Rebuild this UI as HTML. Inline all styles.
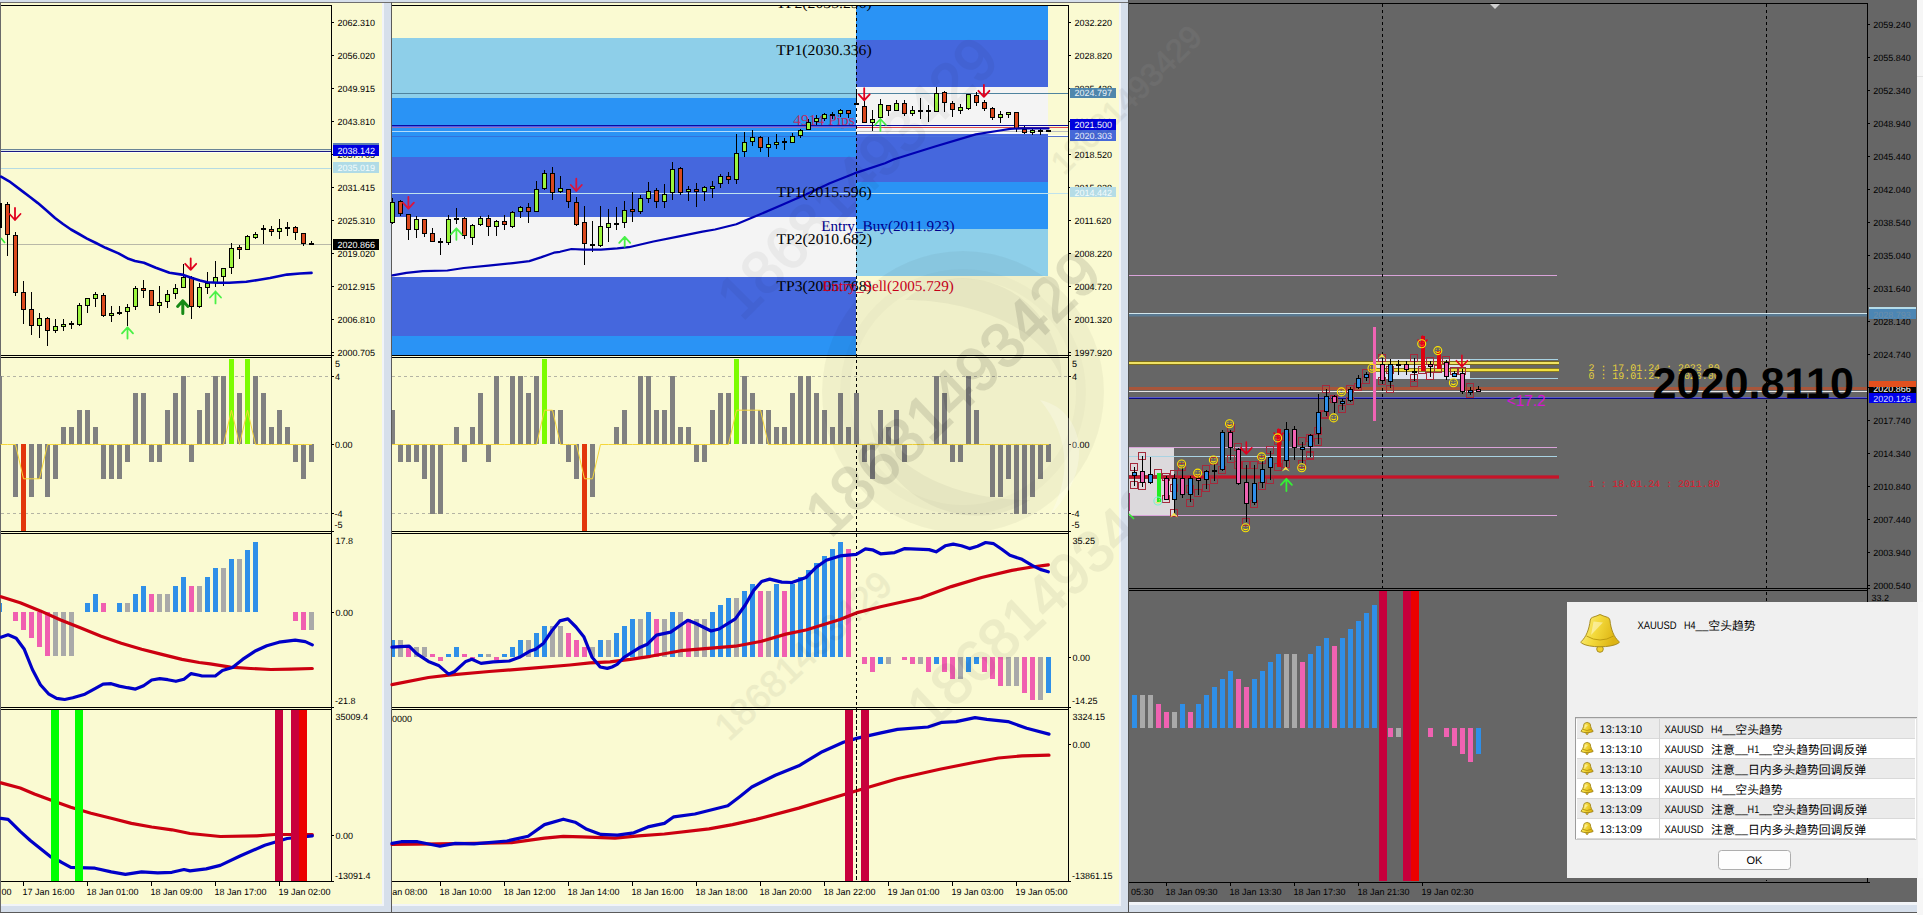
<!DOCTYPE html>
<html lang="zh"><head><meta charset="utf-8"><title>XAUUSD charts</title>
<style>html,body{margin:0;padding:0;background:#fff;overflow:hidden}svg{display:block}text{white-space:pre}</style>
</head><body>
<svg width="1923" height="915" viewBox="0 0 1923 915" shape-rendering="crispEdges" text-rendering="geometricPrecision">
<rect x="0" y="0" width="392" height="915" fill="#FFFFFF"/>
<rect x="0" y="0" width="392" height="2" fill="#D6DFEB"/>
<rect x="0" y="2" width="392" height="1" fill="#6E6E6E"/>
<rect x="1" y="3" width="381" height="901" fill="#FAFAD2"/>
<rect x="382" y="3" width="2" height="903" fill="#F1F4F8"/>
<rect x="0" y="904" width="384" height="2" fill="#F1F4F8"/>
<rect x="1" y="906" width="390" height="6" fill="#D6DFEB"/>
<rect x="384" y="3" width="7" height="909" fill="#D6DFEB"/>
<rect x="0" y="2" width="1" height="911" fill="#6A6A6A"/>
<rect x="391" y="2" width="1" height="911" fill="#5A5A5A"/>
<rect x="0" y="912" width="392" height="1" fill="#5A5A5A"/>
<rect x="0" y="913" width="392" height="2" fill="#FFFFFF"/>
<rect x="1" y="244" width="330" height="1" fill="#B8B8A8"/>
<rect x="1" y="168" width="330" height="1" fill="#B5DBE3"/>
<rect x="1" y="149" width="330" height="1" fill="#6A8496"/>
<rect x="1" y="150" width="330" height="1" fill="#DCE8E0"/>
<rect x="1" y="151" width="330" height="1" fill="#1A1A84"/>
<rect x="1" y="152" width="330" height="1" fill="#FFFFF6"/>
<rect x="0" y="203" width="2" height="25" fill="#000"/>
<rect x="7" y="202" width="1" height="54" fill="#000"/>
<rect x="5" y="204" width="5" height="31" fill="#000"/>
<rect x="6" y="205" width="3" height="29" fill="#DA4A1E"/>
<rect x="15" y="232" width="1" height="64" fill="#000"/>
<rect x="13" y="235" width="5" height="58" fill="#000"/>
<rect x="14" y="236" width="3" height="56" fill="#DA4A1E"/>
<rect x="23" y="281" width="1" height="43" fill="#000"/>
<rect x="21" y="292" width="5" height="18" fill="#000"/>
<rect x="22" y="293" width="3" height="16" fill="#DA4A1E"/>
<rect x="31" y="292" width="1" height="43" fill="#000"/>
<rect x="29" y="309" width="5" height="17" fill="#000"/>
<rect x="30" y="310" width="3" height="15" fill="#DA4A1E"/>
<rect x="39" y="313" width="1" height="25" fill="#000"/>
<rect x="37" y="318" width="5" height="8" fill="#000"/>
<rect x="38" y="319" width="3" height="6" fill="#9CF53C"/>
<rect x="47" y="317" width="1" height="29" fill="#000"/>
<rect x="45" y="318" width="5" height="13" fill="#000"/>
<rect x="46" y="319" width="3" height="11" fill="#DA4A1E"/>
<rect x="55" y="319" width="1" height="14" fill="#000"/>
<rect x="53" y="326" width="5" height="5" fill="#000"/>
<rect x="54" y="327" width="3" height="3" fill="#9CF53C"/>
<rect x="63" y="319" width="1" height="12" fill="#000"/>
<rect x="61" y="324" width="5" height="3" fill="#000"/>
<rect x="62" y="325" width="3" height="1" fill="#9CF53C"/>
<rect x="71" y="321" width="1" height="8" fill="#000"/>
<rect x="69" y="323" width="5" height="2" fill="#000"/>
<rect x="79" y="303" width="1" height="23" fill="#000"/>
<rect x="77" y="305" width="5" height="20" fill="#000"/>
<rect x="78" y="306" width="3" height="18" fill="#9CF53C"/>
<rect x="87" y="298" width="1" height="15" fill="#000"/>
<rect x="85" y="298" width="5" height="8" fill="#000"/>
<rect x="86" y="299" width="3" height="6" fill="#9CF53C"/>
<rect x="95" y="292" width="1" height="15" fill="#000"/>
<rect x="93" y="294" width="5" height="5" fill="#000"/>
<rect x="94" y="295" width="3" height="3" fill="#9CF53C"/>
<rect x="103" y="293" width="1" height="24" fill="#000"/>
<rect x="101" y="295" width="5" height="21" fill="#000"/>
<rect x="102" y="296" width="3" height="19" fill="#DA4A1E"/>
<rect x="111" y="306" width="1" height="16" fill="#000"/>
<rect x="109" y="313" width="5" height="3" fill="#000"/>
<rect x="110" y="314" width="3" height="1" fill="#9CF53C"/>
<rect x="119" y="306" width="1" height="9" fill="#000"/>
<rect x="117" y="312" width="5" height="2" fill="#000"/>
<rect x="127" y="304" width="1" height="22" fill="#000"/>
<rect x="125" y="307" width="5" height="5" fill="#000"/>
<rect x="126" y="308" width="3" height="3" fill="#9CF53C"/>
<rect x="135" y="286" width="1" height="24" fill="#000"/>
<rect x="133" y="288" width="5" height="19" fill="#000"/>
<rect x="134" y="289" width="3" height="17" fill="#9CF53C"/>
<rect x="143" y="280" width="1" height="18" fill="#000"/>
<rect x="141" y="288" width="5" height="3" fill="#000"/>
<rect x="142" y="289" width="3" height="1" fill="#DA4A1E"/>
<rect x="151" y="290" width="1" height="16" fill="#000"/>
<rect x="149" y="290" width="5" height="16" fill="#000"/>
<rect x="150" y="291" width="3" height="14" fill="#DA4A1E"/>
<rect x="159" y="286" width="1" height="27" fill="#000"/>
<rect x="157" y="302" width="5" height="4" fill="#000"/>
<rect x="158" y="303" width="3" height="2" fill="#9CF53C"/>
<rect x="167" y="290" width="1" height="18" fill="#000"/>
<rect x="165" y="294" width="5" height="8" fill="#000"/>
<rect x="166" y="295" width="3" height="6" fill="#9CF53C"/>
<rect x="175" y="284" width="1" height="15" fill="#000"/>
<rect x="173" y="288" width="5" height="6" fill="#000"/>
<rect x="174" y="289" width="3" height="4" fill="#9CF53C"/>
<rect x="183" y="264" width="1" height="24" fill="#000"/>
<rect x="181" y="277" width="5" height="11" fill="#000"/>
<rect x="182" y="278" width="3" height="9" fill="#9CF53C"/>
<rect x="191" y="276" width="1" height="43" fill="#000"/>
<rect x="189" y="277" width="5" height="30" fill="#000"/>
<rect x="190" y="278" width="3" height="28" fill="#DA4A1E"/>
<rect x="199" y="283" width="1" height="25" fill="#000"/>
<rect x="197" y="287" width="5" height="20" fill="#000"/>
<rect x="198" y="288" width="3" height="18" fill="#9CF53C"/>
<rect x="207" y="272" width="1" height="22" fill="#000"/>
<rect x="205" y="283" width="5" height="5" fill="#000"/>
<rect x="206" y="284" width="3" height="3" fill="#9CF53C"/>
<rect x="215" y="261" width="1" height="26" fill="#000"/>
<rect x="213" y="277" width="5" height="6" fill="#000"/>
<rect x="214" y="278" width="3" height="4" fill="#9CF53C"/>
<rect x="223" y="268" width="1" height="18" fill="#000"/>
<rect x="221" y="268" width="5" height="9" fill="#000"/>
<rect x="222" y="269" width="3" height="7" fill="#9CF53C"/>
<rect x="231" y="243" width="1" height="31" fill="#000"/>
<rect x="229" y="248" width="5" height="20" fill="#000"/>
<rect x="230" y="249" width="3" height="18" fill="#9CF53C"/>
<rect x="239" y="245" width="1" height="14" fill="#000"/>
<rect x="237" y="247" width="5" height="3" fill="#000"/>
<rect x="238" y="248" width="3" height="1" fill="#DA4A1E"/>
<rect x="247" y="235" width="1" height="15" fill="#000"/>
<rect x="245" y="236" width="5" height="14" fill="#000"/>
<rect x="246" y="237" width="3" height="12" fill="#9CF53C"/>
<rect x="255" y="232" width="1" height="7" fill="#000"/>
<rect x="253" y="234" width="5" height="4" fill="#000"/>
<rect x="254" y="235" width="3" height="2" fill="#9CF53C"/>
<rect x="263" y="225" width="1" height="19" fill="#000"/>
<rect x="261" y="228" width="5" height="2" fill="#000"/>
<rect x="271" y="226" width="1" height="10" fill="#000"/>
<rect x="269" y="229" width="5" height="3" fill="#000"/>
<rect x="270" y="230" width="3" height="1" fill="#DA4A1E"/>
<rect x="279" y="219" width="1" height="20" fill="#000"/>
<rect x="277" y="228" width="5" height="4" fill="#000"/>
<rect x="278" y="229" width="3" height="2" fill="#9CF53C"/>
<rect x="287" y="222" width="1" height="14" fill="#000"/>
<rect x="285" y="227" width="5" height="2" fill="#000"/>
<rect x="295" y="226" width="1" height="14" fill="#000"/>
<rect x="293" y="227" width="5" height="6" fill="#000"/>
<rect x="294" y="228" width="3" height="4" fill="#DA4A1E"/>
<rect x="303" y="233" width="1" height="13" fill="#000"/>
<rect x="301" y="233" width="5" height="11" fill="#000"/>
<rect x="302" y="234" width="3" height="9" fill="#DA4A1E"/>
<rect x="311" y="241" width="1" height="4" fill="#000"/>
<rect x="309" y="243" width="5" height="2" fill="#000"/>
<polyline points="1.1,176.7 9.2,181.3 22.9,191.6 30,197 37.9,203.1 46,210 55,218 63,224 71,229.5 79,234 87,238.6 96,243 105.5,247.8 118.5,253.4 128.5,258.8 135,261 143.9,262.7 155.8,267.8 169.5,272.7 181.9,274.6 192,278 200,280.5 207.3,282.2 218,282.8 229.3,282.7 246.3,281.7 258,280 270,278 287,274.6 300,273.5 311.5,272.9" fill="none" stroke="#0000C0" stroke-width="2.6" stroke-linejoin="round" stroke-linecap="round" shape-rendering="geometricPrecision"/>
<path d="M15 208 V220 M9.5 214 L15 220 L20.5 214" fill="none" stroke="#E0001E" stroke-width="1.8" stroke-linecap="round" stroke-linejoin="round" shape-rendering="geometricPrecision"/>
<path d="M190.7 258.5 V269.8 M185.2 263.8 L190.7 269.8 L196.2 263.8" fill="none" stroke="#E0001E" stroke-width="1.8" stroke-linecap="round" stroke-linejoin="round" shape-rendering="geometricPrecision"/>
<path d="M127.5 338.6 V327.4 M122 333.4 L127.5 327.4 L133 333.4" fill="none" stroke="#35F035" stroke-width="1.8" stroke-linecap="round" stroke-linejoin="round" opacity="0.9" shape-rendering="geometricPrecision"/>
<path d="M215.5 303.4 V291.5 M210 297.5 L215.5 291.5 L221 297.5" fill="none" stroke="#35F035" stroke-width="1.8" stroke-linecap="round" stroke-linejoin="round" opacity="0.9" shape-rendering="geometricPrecision"/>
<path d="M182.8 313.5 V300.8 M177.6 306.5 L182.8 300.8 L188 306.5" fill="none" stroke="#168A16" stroke-width="3" stroke-linecap="round" stroke-linejoin="round" opacity="1" shape-rendering="geometricPrecision"/>
<path d="M1 238 L5 243" stroke="#35F035" stroke-width="1.6" fill="none" shape-rendering="geometricPrecision"/>
<rect x="1" y="5" width="331" height="1" fill="#000"/>
<rect x="1" y="355" width="333" height="1" fill="#000"/>
<rect x="1" y="357" width="331" height="1" fill="#000"/>
<rect x="1" y="531" width="333" height="1" fill="#000"/>
<rect x="1" y="533" width="331" height="1" fill="#000"/>
<rect x="1" y="707" width="333" height="1" fill="#000"/>
<rect x="1" y="709" width="331" height="1" fill="#000"/>
<rect x="1" y="881" width="333" height="1" fill="#000"/>
<rect x="331" y="5" width="1" height="877" fill="#000"/>
<rect x="332" y="22" width="2" height="1" fill="#000"/>
<text x="337.4" y="25.8" font-family="'Liberation Sans','Noto Sans CJK SC',sans-serif" font-size="9" fill="#000">2062.310</text>
<rect x="332" y="55" width="2" height="1" fill="#000"/>
<text x="337.4" y="58.8" font-family="'Liberation Sans','Noto Sans CJK SC',sans-serif" font-size="9" fill="#000">2056.020</text>
<rect x="332" y="88" width="2" height="1" fill="#000"/>
<text x="337.4" y="91.8" font-family="'Liberation Sans','Noto Sans CJK SC',sans-serif" font-size="9" fill="#000">2049.915</text>
<rect x="332" y="121" width="2" height="1" fill="#000"/>
<text x="337.4" y="124.8" font-family="'Liberation Sans','Noto Sans CJK SC',sans-serif" font-size="9" fill="#000">2043.810</text>
<rect x="332" y="154" width="2" height="1" fill="#000"/>
<text x="337.4" y="157.8" font-family="'Liberation Sans','Noto Sans CJK SC',sans-serif" font-size="9" fill="#000">2037.705</text>
<rect x="332" y="187" width="2" height="1" fill="#000"/>
<text x="337.4" y="190.8" font-family="'Liberation Sans','Noto Sans CJK SC',sans-serif" font-size="9" fill="#000">2031.415</text>
<rect x="332" y="220" width="2" height="1" fill="#000"/>
<text x="337.4" y="223.8" font-family="'Liberation Sans','Noto Sans CJK SC',sans-serif" font-size="9" fill="#000">2025.310</text>
<rect x="332" y="253" width="2" height="1" fill="#000"/>
<text x="337.4" y="256.8" font-family="'Liberation Sans','Noto Sans CJK SC',sans-serif" font-size="9" fill="#000">2019.020</text>
<rect x="332" y="286" width="2" height="1" fill="#000"/>
<text x="337.4" y="289.8" font-family="'Liberation Sans','Noto Sans CJK SC',sans-serif" font-size="9" fill="#000">2012.915</text>
<rect x="332" y="319" width="2" height="1" fill="#000"/>
<text x="337.4" y="322.8" font-family="'Liberation Sans','Noto Sans CJK SC',sans-serif" font-size="9" fill="#000">2006.810</text>
<rect x="332" y="352" width="2" height="1" fill="#000"/>
<text x="337.4" y="355.8" font-family="'Liberation Sans','Noto Sans CJK SC',sans-serif" font-size="9" fill="#000">2000.705</text>
<rect x="333" y="143" width="46" height="2" fill="#5B7DB8"/>
<rect x="333" y="145" width="46" height="11" fill="#0000E0"/>
<text x="337.4" y="153.7" font-family="'Liberation Sans','Noto Sans CJK SC',sans-serif" font-size="9" fill="#FFF">2038.142</text>
<rect x="333" y="162" width="46" height="11" fill="#B0DBE6"/>
<text x="337.4" y="170.9" font-family="'Liberation Sans','Noto Sans CJK SC',sans-serif" font-size="9" fill="#F4FBFC">2035.019</text>
<rect x="333" y="239" width="46" height="11" fill="#000"/>
<text x="337.4" y="248" font-family="'Liberation Sans','Noto Sans CJK SC',sans-serif" font-size="9" fill="#FFF">2020.866</text>
<path d="M1 376.5 H331" stroke="#B4B4A4" stroke-width="1" stroke-dasharray="3 3" fill="none"/>
<path d="M1 513.5 H331" stroke="#B4B4A4" stroke-width="1" stroke-dasharray="3 3" fill="none"/>
<rect x="-3" y="376" width="5" height="68" fill="#808080"/>
<rect x="13" y="444" width="5" height="53" fill="#808080"/>
<rect x="21" y="444" width="5" height="87" fill="#E2360C"/>
<rect x="29" y="444" width="5" height="53" fill="#808080"/>
<rect x="37" y="444" width="5" height="35" fill="#808080"/>
<rect x="45" y="444" width="5" height="53" fill="#808080"/>
<rect x="53" y="444" width="5" height="35" fill="#808080"/>
<rect x="61" y="427" width="5" height="17" fill="#808080"/>
<rect x="69" y="427" width="5" height="17" fill="#808080"/>
<rect x="77" y="410" width="5" height="34" fill="#808080"/>
<rect x="85" y="410" width="5" height="34" fill="#808080"/>
<rect x="93" y="427" width="5" height="17" fill="#808080"/>
<rect x="101" y="444" width="5" height="35" fill="#808080"/>
<rect x="109" y="444" width="5" height="35" fill="#808080"/>
<rect x="117" y="444" width="5" height="35" fill="#808080"/>
<rect x="125" y="444" width="5" height="18" fill="#808080"/>
<rect x="133" y="393" width="5" height="51" fill="#808080"/>
<rect x="141" y="393" width="5" height="51" fill="#808080"/>
<rect x="149" y="444" width="5" height="18" fill="#808080"/>
<rect x="157" y="444" width="5" height="18" fill="#808080"/>
<rect x="165" y="410" width="5" height="34" fill="#808080"/>
<rect x="173" y="393" width="5" height="51" fill="#808080"/>
<rect x="181" y="376" width="5" height="68" fill="#808080"/>
<rect x="189" y="444" width="5" height="18" fill="#808080"/>
<rect x="197" y="410" width="5" height="34" fill="#808080"/>
<rect x="205" y="393" width="5" height="51" fill="#808080"/>
<rect x="213" y="376" width="5" height="68" fill="#808080"/>
<rect x="221" y="376" width="5" height="68" fill="#808080"/>
<rect x="229" y="359" width="5" height="85" fill="#7CFC00"/>
<rect x="237" y="393" width="5" height="51" fill="#808080"/>
<rect x="245" y="359" width="5" height="85" fill="#7CFC00"/>
<rect x="253" y="376" width="5" height="68" fill="#808080"/>
<rect x="261" y="393" width="5" height="51" fill="#808080"/>
<rect x="269" y="427" width="5" height="17" fill="#808080"/>
<rect x="277" y="410" width="5" height="34" fill="#808080"/>
<rect x="285" y="427" width="5" height="17" fill="#808080"/>
<rect x="293" y="444" width="5" height="18" fill="#808080"/>
<rect x="301" y="444" width="5" height="35" fill="#808080"/>
<rect x="309" y="444" width="5" height="18" fill="#808080"/>
<polyline points="1,444.5 7.5,444.5 15.5,444.5 23.5,478.8 31.5,478.8 39.5,478.8 47.5,444.5 55.5,444.5 63.5,444.5 71.5,444.5 79.5,444.5 87.5,444.5 95.5,444.5 103.5,444.5 111.5,444.5 119.5,444.5 127.5,444.5 135.5,444.5 143.5,444.5 151.5,444.5 159.5,444.5 167.5,444.5 175.5,444.5 183.5,444.5 191.5,444.5 199.5,444.5 207.5,444.5 215.5,444.5 223.5,444.5 231.5,410.2 239.5,444.5 247.5,410.2 255.5,444.5 263.5,444.5 271.5,444.5 279.5,444.5 287.5,444.5 295.5,444.5 303.5,444.5 311.5,444.5" fill="none" stroke="#F5D63A" stroke-width="1" stroke-linejoin="round" stroke-linecap="round" shape-rendering="geometricPrecision"/>
<text x="335" y="367.3" font-family="'Liberation Sans','Noto Sans CJK SC',sans-serif" font-size="9" fill="#000">5</text>
<text x="335" y="379.8" font-family="'Liberation Sans','Noto Sans CJK SC',sans-serif" font-size="9" fill="#000">4</text>
<text x="335" y="447.8" font-family="'Liberation Sans','Noto Sans CJK SC',sans-serif" font-size="9" fill="#000">0.00</text>
<text x="334.6" y="516.8" font-family="'Liberation Sans','Noto Sans CJK SC',sans-serif" font-size="9" fill="#000">-4</text>
<text x="334.6" y="527.8" font-family="'Liberation Sans','Noto Sans CJK SC',sans-serif" font-size="9" fill="#000">-5</text>
<rect x="332" y="376" width="2" height="1" fill="#000"/>
<rect x="332" y="444" width="2" height="1" fill="#000"/>
<rect x="332" y="513" width="2" height="1" fill="#000"/>
<rect x="1" y="603" width="1" height="9" fill="#2F8FE8"/>
<rect x="13" y="612" width="5" height="9" fill="#F05FB0"/>
<rect x="21" y="612" width="5" height="18" fill="#F05FB0"/>
<rect x="29" y="612" width="5" height="26" fill="#F05FB0"/>
<rect x="37" y="612" width="5" height="35" fill="#F05FB0"/>
<rect x="45" y="612" width="5" height="44" fill="#F05FB0"/>
<rect x="53" y="612" width="5" height="44" fill="#A9A9A9"/>
<rect x="61" y="612" width="5" height="44" fill="#A9A9A9"/>
<rect x="69" y="612" width="5" height="44" fill="#A9A9A9"/>
<rect x="85" y="603" width="5" height="9" fill="#2F8FE8"/>
<rect x="93" y="594" width="5" height="18" fill="#2F8FE8"/>
<rect x="101" y="603" width="5" height="9" fill="#F05FB0"/>
<rect x="117" y="603" width="5" height="9" fill="#2F8FE8"/>
<rect x="125" y="603" width="5" height="9" fill="#A9A9A9"/>
<rect x="133" y="594" width="5" height="18" fill="#2F8FE8"/>
<rect x="141" y="586" width="5" height="26" fill="#2F8FE8"/>
<rect x="149" y="594" width="5" height="18" fill="#F05FB0"/>
<rect x="157" y="594" width="5" height="18" fill="#A9A9A9"/>
<rect x="165" y="594" width="5" height="18" fill="#A9A9A9"/>
<rect x="173" y="586" width="5" height="26" fill="#2F8FE8"/>
<rect x="181" y="577" width="5" height="35" fill="#2F8FE8"/>
<rect x="189" y="586" width="5" height="26" fill="#F05FB0"/>
<rect x="197" y="586" width="5" height="26" fill="#A9A9A9"/>
<rect x="205" y="577" width="5" height="35" fill="#2F8FE8"/>
<rect x="213" y="568" width="5" height="44" fill="#2F8FE8"/>
<rect x="221" y="568" width="5" height="44" fill="#A9A9A9"/>
<rect x="229" y="559" width="5" height="53" fill="#2F8FE8"/>
<rect x="237" y="559" width="5" height="53" fill="#A9A9A9"/>
<rect x="245" y="550" width="5" height="62" fill="#2F8FE8"/>
<rect x="253" y="542" width="5" height="70" fill="#2F8FE8"/>
<rect x="293" y="612" width="5" height="9" fill="#F05FB0"/>
<rect x="301" y="612" width="5" height="18" fill="#F05FB0"/>
<rect x="309" y="612" width="5" height="18" fill="#A9A9A9"/>
<polyline points="1,596.7 20.2,602.8 40.4,610.9 60.7,620 80.9,628.1 101.1,636.2 121.3,643.2 141.6,649.3 161.8,654.4 182,659.4 199.2,662.5 210.2,663.9 230.4,667.1 250.7,668.5 270.9,669.5 291.1,669.1 312.3,668.5" fill="none" stroke="#CC0010" stroke-width="3.2" stroke-linejoin="round" stroke-linecap="round" shape-rendering="geometricPrecision"/>
<polyline points="1,637.2 8.1,634.8 16.2,638.2 24.3,649.3 32.4,669.5 40.4,684.7 48.5,693.8 56.6,698.3 64.7,699.5 72.8,697.8 84.9,694.2 95,688.7 103.1,684.1 111.2,683.7 119.3,686.1 127.4,687.7 135.5,689.1 143.6,685.7 151.7,680 159.8,678.6 167.8,679.7 175.9,681.3 184,679.2 191.1,673.6 199.2,675.2 202.1,676 215.3,676 222.4,670.5 232.5,667.5 242.6,659.4 254.7,651.3 266.8,645.7 279,642.2 295.2,640.2 305.3,641.6 312.3,644.9" fill="none" stroke="#0000C8" stroke-width="3.2" stroke-linejoin="round" stroke-linecap="round" shape-rendering="geometricPrecision"/>
<text x="335.5" y="543.8" font-family="'Liberation Sans','Noto Sans CJK SC',sans-serif" font-size="9" fill="#000">17.8</text>
<text x="335.5" y="616" font-family="'Liberation Sans','Noto Sans CJK SC',sans-serif" font-size="9" fill="#000">0.00</text>
<text x="335" y="704" font-family="'Liberation Sans','Noto Sans CJK SC',sans-serif" font-size="9" fill="#000">-21.8</text>
<rect x="332" y="612" width="2" height="1" fill="#000"/>
<polyline points="1,782.9 20.2,788 34.4,794 50.6,800.1 70.8,807.2 91,813.2 111.2,818.3 131.4,823.4 151.7,827 171.9,829.8 190,833.5 220.3,836.5 256.7,835.9 274.9,834.5 312.3,834.5" fill="none" stroke="#CC0010" stroke-width="3.2" stroke-linejoin="round" stroke-linecap="round" shape-rendering="geometricPrecision"/>
<polyline points="1,818.3 8.1,819.3 20.2,831.4 30.3,840.5 50.6,856.7 60.7,861.8 70.8,867.4 95,868.2 111.2,871.9 125.4,874.3 141.6,871.9 157.7,872.9 171.9,872.3 184,869.5 190,870.9 206.2,868.9 220.3,865.4 240.6,855.7 264.8,845.2 287.1,838.5 312.3,835.9" fill="none" stroke="#0000C8" stroke-width="3.2" stroke-linejoin="round" stroke-linecap="round" shape-rendering="geometricPrecision"/>
<rect x="51" y="710" width="8" height="171" fill="#00FF00"/>
<rect x="75" y="710" width="8" height="171" fill="#00FF00"/>
<rect x="275" y="710" width="8" height="171" fill="#C8003C"/>
<rect x="291" y="710" width="8" height="171" fill="#C8003C"/>
<rect x="299" y="710" width="8" height="171" fill="#EC0000"/>
<text x="335.5" y="720" font-family="'Liberation Sans','Noto Sans CJK SC',sans-serif" font-size="9" fill="#000">35009.4</text>
<text x="335.5" y="839" font-family="'Liberation Sans','Noto Sans CJK SC',sans-serif" font-size="9" fill="#000">0.00</text>
<text x="335" y="879" font-family="'Liberation Sans','Noto Sans CJK SC',sans-serif" font-size="9" fill="#000">-13091.4</text>
<rect x="332" y="835" width="2" height="1" fill="#000"/>
<rect x="23" y="882" width="1" height="4" fill="#000"/>
<text x="22.5" y="894.8" font-family="'Liberation Sans','Noto Sans CJK SC',sans-serif" font-size="9" fill="#000">17 Jan 16:00</text>
<rect x="87" y="882" width="1" height="4" fill="#000"/>
<text x="86.5" y="894.8" font-family="'Liberation Sans','Noto Sans CJK SC',sans-serif" font-size="9" fill="#000">18 Jan 01:00</text>
<rect x="151" y="882" width="1" height="4" fill="#000"/>
<text x="150.5" y="894.8" font-family="'Liberation Sans','Noto Sans CJK SC',sans-serif" font-size="9" fill="#000">18 Jan 09:00</text>
<rect x="215" y="882" width="1" height="4" fill="#000"/>
<text x="214.5" y="894.8" font-family="'Liberation Sans','Noto Sans CJK SC',sans-serif" font-size="9" fill="#000">18 Jan 17:00</text>
<rect x="279" y="882" width="1" height="4" fill="#000"/>
<text x="278.5" y="894.8" font-family="'Liberation Sans','Noto Sans CJK SC',sans-serif" font-size="9" fill="#000">19 Jan 02:00</text>
<text x="1.5" y="894.8" font-family="'Liberation Sans','Noto Sans CJK SC',sans-serif" font-size="9" fill="#000">00</text>
<rect x="392" y="0" width="737" height="915" fill="#FFFFFF"/>
<rect x="392" y="0" width="737" height="2" fill="#D6DFEB"/>
<rect x="392" y="2" width="737" height="1" fill="#6E6E6E"/>
<rect x="392" y="3" width="727" height="901" fill="#FAFAD2"/>
<rect x="1119" y="3" width="2" height="903" fill="#F1F4F8"/>
<rect x="392" y="904" width="729" height="2" fill="#F1F4F8"/>
<rect x="392" y="906" width="736" height="6" fill="#D6DFEB"/>
<rect x="1121" y="3" width="7" height="909" fill="#D6DFEB"/>
<rect x="392" y="912" width="737" height="1" fill="#5A5A5A"/>
<rect x="392" y="913" width="737" height="2" fill="#FFFFFF"/>
<rect x="392" y="38" width="464" height="60" fill="#8ECFE9"/>
<rect x="392" y="98" width="464" height="59" fill="#2A93F5"/>
<rect x="392" y="157" width="464" height="60" fill="#4567DD"/>
<rect x="392" y="217" width="464" height="60" fill="#F4F4F4"/>
<rect x="392" y="277" width="464" height="59" fill="#4567DD"/>
<rect x="392" y="336" width="464" height="19" fill="#2A93F5"/>
<rect x="856" y="6" width="192" height="34" fill="#2A93F5"/>
<rect x="856" y="40" width="192" height="47" fill="#4567DD"/>
<rect x="856" y="87" width="192" height="47" fill="#F4F4F4"/>
<rect x="856" y="134" width="192" height="48" fill="#4567DD"/>
<rect x="856" y="182" width="192" height="47" fill="#2A93F5"/>
<rect x="856" y="229" width="192" height="47" fill="#8ECFE9"/>
<rect x="392" y="93" width="676" height="1" fill="#4F839F"/>
<rect x="392" y="193" width="676" height="1" fill="#BFE3EE"/>
<rect x="392" y="136" width="656" height="1" fill="#3272DC"/>
<rect x="856" y="136" width="192" height="1" fill="#4A70DE"/>
<rect x="1048" y="135" width="20" height="1" fill="#FFFFF4"/>
<rect x="1048" y="136" width="20" height="1" fill="#5573C8"/>
<rect x="392" y="131" width="464" height="1" fill="#B2DCFA"/>
<rect x="856" y="131" width="212" height="1" fill="#B9BCC0"/>
<rect x="856" y="132" width="192" height="1" fill="#FBFBFB"/>
<text x="793.3" y="124.6" font-family="'Liberation Serif','Noto Serif CJK SC',serif" font-size="15" fill="#B82D68" textLength="61.6" lengthAdjust="spacingAndGlyphs">4914 Pips</text>
<rect x="392" y="125" width="676" height="1" fill="#0A0AA0"/>
<rect x="392" y="126" width="464" height="1" fill="#4A5CEC"/>
<rect x="392" y="127" width="464" height="1" fill="#9472B4"/>
<rect x="856" y="127" width="212" height="1" fill="#E0484C"/>
<path d="M856.5 6 V881" stroke="#000" stroke-width="1" stroke-dasharray="3 3" fill="none"/>
<rect x="392" y="198" width="1" height="26" fill="#000"/>
<rect x="390" y="202" width="5" height="21" fill="#000"/>
<rect x="391" y="203" width="3" height="19" fill="#9CF53C"/>
<rect x="400" y="200" width="1" height="16" fill="#000"/>
<rect x="398" y="201" width="5" height="13" fill="#000"/>
<rect x="399" y="202" width="3" height="11" fill="#DA4A1E"/>
<rect x="408" y="214" width="1" height="26" fill="#000"/>
<rect x="406" y="214" width="5" height="16" fill="#000"/>
<rect x="407" y="215" width="3" height="14" fill="#DA4A1E"/>
<rect x="416" y="216" width="1" height="22" fill="#000"/>
<rect x="414" y="219" width="5" height="11" fill="#000"/>
<rect x="415" y="220" width="3" height="9" fill="#9CF53C"/>
<rect x="424" y="219" width="1" height="18" fill="#000"/>
<rect x="422" y="219" width="5" height="15" fill="#000"/>
<rect x="423" y="220" width="3" height="13" fill="#DA4A1E"/>
<rect x="432" y="228" width="1" height="14" fill="#000"/>
<rect x="430" y="233" width="5" height="9" fill="#000"/>
<rect x="431" y="234" width="3" height="7" fill="#DA4A1E"/>
<rect x="440" y="238" width="1" height="17" fill="#000"/>
<rect x="438" y="241" width="5" height="2" fill="#000"/>
<rect x="448" y="215" width="1" height="30" fill="#000"/>
<rect x="446" y="219" width="5" height="24" fill="#000"/>
<rect x="447" y="220" width="3" height="22" fill="#9CF53C"/>
<rect x="456" y="208" width="1" height="16" fill="#000"/>
<rect x="454" y="218" width="5" height="2" fill="#000"/>
<rect x="464" y="217" width="1" height="22" fill="#000"/>
<rect x="462" y="218" width="5" height="18" fill="#000"/>
<rect x="463" y="219" width="3" height="16" fill="#DA4A1E"/>
<rect x="472" y="224" width="1" height="21" fill="#000"/>
<rect x="470" y="225" width="5" height="13" fill="#000"/>
<rect x="471" y="226" width="3" height="11" fill="#9CF53C"/>
<rect x="480" y="216" width="1" height="10" fill="#000"/>
<rect x="478" y="218" width="5" height="7" fill="#000"/>
<rect x="479" y="219" width="3" height="5" fill="#9CF53C"/>
<rect x="488" y="215" width="1" height="21" fill="#000"/>
<rect x="486" y="218" width="5" height="9" fill="#000"/>
<rect x="487" y="219" width="3" height="7" fill="#DA4A1E"/>
<rect x="496" y="220" width="1" height="16" fill="#000"/>
<rect x="494" y="221" width="5" height="6" fill="#000"/>
<rect x="495" y="222" width="3" height="4" fill="#9CF53C"/>
<rect x="504" y="215" width="1" height="15" fill="#000"/>
<rect x="502" y="221" width="5" height="4" fill="#000"/>
<rect x="503" y="222" width="3" height="2" fill="#DA4A1E"/>
<rect x="512" y="211" width="1" height="17" fill="#000"/>
<rect x="510" y="212" width="5" height="15" fill="#000"/>
<rect x="511" y="213" width="3" height="13" fill="#9CF53C"/>
<rect x="520" y="206" width="1" height="12" fill="#000"/>
<rect x="518" y="207" width="5" height="5" fill="#000"/>
<rect x="519" y="208" width="3" height="3" fill="#9CF53C"/>
<rect x="528" y="203" width="1" height="20" fill="#000"/>
<rect x="526" y="207" width="5" height="5" fill="#000"/>
<rect x="527" y="208" width="3" height="3" fill="#DA4A1E"/>
<rect x="536" y="181" width="1" height="31" fill="#000"/>
<rect x="534" y="189" width="5" height="23" fill="#000"/>
<rect x="535" y="190" width="3" height="21" fill="#9CF53C"/>
<rect x="544" y="170" width="1" height="20" fill="#000"/>
<rect x="542" y="173" width="5" height="16" fill="#000"/>
<rect x="543" y="174" width="3" height="14" fill="#9CF53C"/>
<rect x="552" y="167" width="1" height="33" fill="#000"/>
<rect x="550" y="173" width="5" height="20" fill="#000"/>
<rect x="551" y="174" width="3" height="18" fill="#DA4A1E"/>
<rect x="560" y="176" width="1" height="17" fill="#000"/>
<rect x="558" y="188" width="5" height="4" fill="#000"/>
<rect x="559" y="189" width="3" height="2" fill="#9CF53C"/>
<rect x="568" y="189" width="1" height="19" fill="#000"/>
<rect x="566" y="189" width="5" height="13" fill="#000"/>
<rect x="567" y="190" width="3" height="11" fill="#DA4A1E"/>
<rect x="576" y="197" width="1" height="29" fill="#000"/>
<rect x="574" y="202" width="5" height="23" fill="#000"/>
<rect x="575" y="203" width="3" height="21" fill="#DA4A1E"/>
<rect x="584" y="206" width="1" height="59" fill="#000"/>
<rect x="582" y="222" width="5" height="22" fill="#000"/>
<rect x="583" y="223" width="3" height="20" fill="#DA4A1E"/>
<rect x="592" y="221" width="1" height="31" fill="#000"/>
<rect x="590" y="244" width="5" height="2" fill="#000"/>
<rect x="600" y="206" width="1" height="41" fill="#000"/>
<rect x="598" y="226" width="5" height="20" fill="#000"/>
<rect x="599" y="227" width="3" height="18" fill="#9CF53C"/>
<rect x="608" y="209" width="1" height="33" fill="#000"/>
<rect x="606" y="223" width="5" height="5" fill="#000"/>
<rect x="607" y="224" width="3" height="3" fill="#9CF53C"/>
<rect x="616" y="207" width="1" height="23" fill="#000"/>
<rect x="614" y="223" width="5" height="2" fill="#000"/>
<rect x="624" y="201" width="1" height="27" fill="#000"/>
<rect x="622" y="210" width="5" height="13" fill="#000"/>
<rect x="623" y="211" width="3" height="11" fill="#9CF53C"/>
<rect x="632" y="192" width="1" height="30" fill="#000"/>
<rect x="630" y="209" width="5" height="3" fill="#000"/>
<rect x="631" y="210" width="3" height="1" fill="#DA4A1E"/>
<rect x="640" y="195" width="1" height="19" fill="#000"/>
<rect x="638" y="198" width="5" height="14" fill="#000"/>
<rect x="639" y="199" width="3" height="12" fill="#9CF53C"/>
<rect x="648" y="182" width="1" height="21" fill="#000"/>
<rect x="646" y="191" width="5" height="8" fill="#000"/>
<rect x="647" y="192" width="3" height="6" fill="#9CF53C"/>
<rect x="656" y="188" width="1" height="20" fill="#000"/>
<rect x="654" y="190" width="5" height="12" fill="#000"/>
<rect x="655" y="191" width="3" height="10" fill="#DA4A1E"/>
<rect x="664" y="184" width="1" height="24" fill="#000"/>
<rect x="662" y="194" width="5" height="8" fill="#000"/>
<rect x="663" y="195" width="3" height="6" fill="#9CF53C"/>
<rect x="672" y="162" width="1" height="38" fill="#000"/>
<rect x="670" y="169" width="5" height="24" fill="#000"/>
<rect x="671" y="170" width="3" height="22" fill="#9CF53C"/>
<rect x="680" y="167" width="1" height="28" fill="#000"/>
<rect x="678" y="168" width="5" height="25" fill="#000"/>
<rect x="679" y="169" width="3" height="23" fill="#DA4A1E"/>
<rect x="688" y="186" width="1" height="15" fill="#000"/>
<rect x="686" y="189" width="5" height="3" fill="#000"/>
<rect x="687" y="190" width="3" height="1" fill="#9CF53C"/>
<rect x="696" y="183" width="1" height="24" fill="#000"/>
<rect x="694" y="189" width="5" height="3" fill="#000"/>
<rect x="695" y="190" width="3" height="1" fill="#DA4A1E"/>
<rect x="704" y="186" width="1" height="15" fill="#000"/>
<rect x="702" y="187" width="5" height="5" fill="#000"/>
<rect x="703" y="188" width="3" height="3" fill="#9CF53C"/>
<rect x="712" y="181" width="1" height="17" fill="#000"/>
<rect x="710" y="186" width="5" height="3" fill="#000"/>
<rect x="711" y="187" width="3" height="1" fill="#9CF53C"/>
<rect x="720" y="174" width="1" height="14" fill="#000"/>
<rect x="718" y="176" width="5" height="8" fill="#000"/>
<rect x="719" y="177" width="3" height="6" fill="#9CF53C"/>
<rect x="728" y="172" width="1" height="12" fill="#000"/>
<rect x="726" y="176" width="5" height="4" fill="#000"/>
<rect x="727" y="177" width="3" height="2" fill="#DA4A1E"/>
<rect x="736" y="134" width="1" height="50" fill="#000"/>
<rect x="734" y="153" width="5" height="27" fill="#000"/>
<rect x="735" y="154" width="3" height="25" fill="#9CF53C"/>
<rect x="744" y="132" width="1" height="25" fill="#000"/>
<rect x="742" y="142" width="5" height="10" fill="#000"/>
<rect x="743" y="143" width="3" height="8" fill="#9CF53C"/>
<rect x="752" y="130" width="1" height="16" fill="#000"/>
<rect x="750" y="137" width="5" height="5" fill="#000"/>
<rect x="751" y="138" width="3" height="3" fill="#9CF53C"/>
<rect x="760" y="136" width="1" height="16" fill="#000"/>
<rect x="758" y="137" width="5" height="11" fill="#000"/>
<rect x="759" y="138" width="3" height="9" fill="#DA4A1E"/>
<rect x="768" y="137" width="1" height="20" fill="#000"/>
<rect x="766" y="144" width="5" height="4" fill="#000"/>
<rect x="767" y="145" width="3" height="2" fill="#9CF53C"/>
<rect x="776" y="134" width="1" height="15" fill="#000"/>
<rect x="774" y="142" width="5" height="3" fill="#000"/>
<rect x="775" y="143" width="3" height="1" fill="#9CF53C"/>
<rect x="784" y="138" width="1" height="12" fill="#000"/>
<rect x="782" y="141" width="5" height="2" fill="#000"/>
<rect x="792" y="133" width="1" height="10" fill="#000"/>
<rect x="790" y="136" width="5" height="7" fill="#000"/>
<rect x="791" y="137" width="3" height="5" fill="#9CF53C"/>
<rect x="800" y="129" width="1" height="9" fill="#000"/>
<rect x="798" y="130" width="5" height="6" fill="#000"/>
<rect x="799" y="131" width="3" height="4" fill="#9CF53C"/>
<rect x="808" y="119" width="1" height="11" fill="#000"/>
<rect x="806" y="122" width="5" height="8" fill="#000"/>
<rect x="807" y="123" width="3" height="6" fill="#9CF53C"/>
<rect x="816" y="115" width="1" height="10" fill="#000"/>
<rect x="814" y="118" width="5" height="4" fill="#000"/>
<rect x="815" y="119" width="3" height="2" fill="#9CF53C"/>
<rect x="824" y="113" width="1" height="8" fill="#000"/>
<rect x="822" y="114" width="5" height="5" fill="#000"/>
<rect x="823" y="115" width="3" height="3" fill="#9CF53C"/>
<rect x="832" y="112" width="1" height="7" fill="#000"/>
<rect x="830" y="114" width="5" height="2" fill="#000"/>
<rect x="840" y="109" width="1" height="8" fill="#000"/>
<rect x="838" y="110" width="5" height="4" fill="#000"/>
<rect x="839" y="111" width="3" height="2" fill="#9CF53C"/>
<rect x="848" y="110" width="1" height="8" fill="#000"/>
<rect x="846" y="110" width="5" height="4" fill="#000"/>
<rect x="847" y="111" width="3" height="2" fill="#DA4A1E"/>
<rect x="856" y="89" width="1" height="16" fill="#000"/>
<rect x="854" y="103" width="5" height="2" fill="#000"/>
<rect x="864" y="100" width="1" height="23" fill="#000"/>
<rect x="862" y="106" width="5" height="17" fill="#000"/>
<rect x="863" y="107" width="3" height="15" fill="#DA4A1E"/>
<rect x="872" y="110" width="1" height="21" fill="#000"/>
<rect x="870" y="119" width="5" height="4" fill="#000"/>
<rect x="871" y="120" width="3" height="2" fill="#9CF53C"/>
<rect x="880" y="99" width="1" height="19" fill="#000"/>
<rect x="878" y="104" width="5" height="14" fill="#000"/>
<rect x="879" y="105" width="3" height="12" fill="#9CF53C"/>
<rect x="888" y="105" width="1" height="11" fill="#000"/>
<rect x="886" y="105" width="5" height="6" fill="#000"/>
<rect x="887" y="106" width="3" height="4" fill="#DA4A1E"/>
<rect x="896" y="100" width="1" height="11" fill="#000"/>
<rect x="894" y="103" width="5" height="8" fill="#000"/>
<rect x="895" y="104" width="3" height="6" fill="#9CF53C"/>
<rect x="904" y="100" width="1" height="16" fill="#000"/>
<rect x="902" y="103" width="5" height="11" fill="#000"/>
<rect x="903" y="104" width="3" height="9" fill="#DA4A1E"/>
<rect x="912" y="106" width="1" height="10" fill="#000"/>
<rect x="910" y="110" width="5" height="4" fill="#000"/>
<rect x="911" y="111" width="3" height="2" fill="#9CF53C"/>
<rect x="920" y="98" width="1" height="21" fill="#000"/>
<rect x="918" y="110" width="5" height="2" fill="#000"/>
<rect x="928" y="105" width="1" height="17" fill="#000"/>
<rect x="926" y="110" width="5" height="2" fill="#000"/>
<rect x="936" y="87" width="1" height="25" fill="#000"/>
<rect x="934" y="93" width="5" height="19" fill="#000"/>
<rect x="935" y="94" width="3" height="17" fill="#9CF53C"/>
<rect x="944" y="91" width="1" height="21" fill="#000"/>
<rect x="942" y="92" width="5" height="11" fill="#000"/>
<rect x="943" y="93" width="3" height="9" fill="#DA4A1E"/>
<rect x="952" y="101" width="1" height="16" fill="#000"/>
<rect x="950" y="103" width="5" height="7" fill="#000"/>
<rect x="951" y="104" width="3" height="5" fill="#DA4A1E"/>
<rect x="960" y="104" width="1" height="10" fill="#000"/>
<rect x="958" y="107" width="5" height="4" fill="#000"/>
<rect x="959" y="108" width="3" height="2" fill="#9CF53C"/>
<rect x="968" y="94" width="1" height="16" fill="#000"/>
<rect x="966" y="94" width="5" height="15" fill="#000"/>
<rect x="967" y="95" width="3" height="13" fill="#9CF53C"/>
<rect x="976" y="92" width="1" height="14" fill="#000"/>
<rect x="974" y="95" width="5" height="8" fill="#000"/>
<rect x="975" y="96" width="3" height="6" fill="#DA4A1E"/>
<rect x="984" y="100" width="1" height="11" fill="#000"/>
<rect x="982" y="102" width="5" height="7" fill="#000"/>
<rect x="983" y="103" width="3" height="5" fill="#DA4A1E"/>
<rect x="992" y="107" width="1" height="13" fill="#000"/>
<rect x="990" y="108" width="5" height="10" fill="#000"/>
<rect x="991" y="109" width="3" height="8" fill="#DA4A1E"/>
<rect x="1000" y="111" width="1" height="12" fill="#000"/>
<rect x="998" y="114" width="5" height="4" fill="#000"/>
<rect x="999" y="115" width="3" height="2" fill="#9CF53C"/>
<rect x="1008" y="112" width="1" height="6" fill="#000"/>
<rect x="1006" y="112" width="5" height="3" fill="#000"/>
<rect x="1007" y="113" width="3" height="1" fill="#9CF53C"/>
<rect x="1016" y="112" width="1" height="20" fill="#000"/>
<rect x="1014" y="112" width="5" height="17" fill="#000"/>
<rect x="1015" y="113" width="3" height="15" fill="#DA4A1E"/>
<rect x="1024" y="126" width="1" height="8" fill="#000"/>
<rect x="1022" y="129" width="5" height="4" fill="#000"/>
<rect x="1023" y="130" width="3" height="2" fill="#DA4A1E"/>
<rect x="1032" y="129" width="1" height="6" fill="#000"/>
<rect x="1030" y="130" width="5" height="3" fill="#000"/>
<rect x="1031" y="131" width="3" height="1" fill="#9CF53C"/>
<rect x="1040" y="128" width="1" height="7" fill="#000"/>
<rect x="1038" y="130" width="5" height="2" fill="#000"/>
<rect x="1048" y="130" width="1" height="2" fill="#000"/>
<rect x="1046" y="130" width="5" height="2" fill="#000"/>
<rect x="1046" y="130" width="5" height="2" fill="#000"/>
<polyline points="392.5,275.4 406.4,272.8 422.8,271.2 447.4,270.5 463.8,268 488.4,265.6 513,263.1 529.3,261.1 540.8,257.4 553.9,252.7 560,251.8 571.4,249 584.5,249.7 600.9,249.7 617.3,248.4 628.8,247.2 653.4,241.5 677.9,236.6 702.5,231.6 715,229.5 736.3,224.3 756,216.1 780.6,205.4 805.2,194.8 829.8,183.3 854.3,173.4 885,163.3 893.5,159.5 935,146.5 975.8,134.4 1000,130.5 1010.2,128.9 1021.6,128.3 1048.5,128.4" fill="none" stroke="#0000B4" stroke-width="2.2" stroke-linejoin="round" stroke-linecap="round" shape-rendering="geometricPrecision"/>
<path d="M408.4 197 V208.7 M402.9 202.7 L408.4 208.7 L413.9 202.7" fill="none" stroke="#DC143C" stroke-width="1.8" stroke-linecap="round" stroke-linejoin="round" shape-rendering="geometricPrecision"/>
<path d="M576.3 178.7 V191 M570.8 185 L576.3 191 L581.8 185" fill="none" stroke="#DC143C" stroke-width="1.8" stroke-linecap="round" stroke-linejoin="round" shape-rendering="geometricPrecision"/>
<path d="M864.2 88.2 V100.3 M858.7 94.3 L864.2 100.3 L869.7 94.3" fill="none" stroke="#E0001E" stroke-width="1.8" stroke-linecap="round" stroke-linejoin="round" shape-rendering="geometricPrecision"/>
<path d="M983.9 85 V96.8 M978.4 90.8 L983.9 96.8 L989.4 90.8" fill="none" stroke="#E0001E" stroke-width="1.8" stroke-linecap="round" stroke-linejoin="round" shape-rendering="geometricPrecision"/>
<path d="M456.4 239.8 V228.4 M450.9 234.4 L456.4 228.4 L461.9 234.4" fill="none" stroke="#35F035" stroke-width="1.8" stroke-linecap="round" stroke-linejoin="round" opacity="0.9" shape-rendering="geometricPrecision"/>
<path d="M624.7 246.7 V236.9 M619.2 242.9 L624.7 236.9 L630.2 242.9" fill="none" stroke="#35F035" stroke-width="1.8" stroke-linecap="round" stroke-linejoin="round" opacity="0.9" shape-rendering="geometricPrecision"/>
<path d="M880.4 130.9 V119 M874.9 125 L880.4 119 L885.9 125" fill="none" stroke="#35F035" stroke-width="1.8" stroke-linecap="round" stroke-linejoin="round" opacity="0.9" shape-rendering="geometricPrecision"/>
<clipPath id="ctp"><rect x="392" y="6" width="676" height="349"/></clipPath><g clip-path="url(#ctp)">
<text x="776.2" y="7.5" font-family="'Liberation Serif','Noto Serif CJK SC',serif" font-size="15" fill="#000" textLength="95.5" lengthAdjust="spacingAndGlyphs">TP2(2035.256)</text>
</g>
<text x="776.2" y="54.9" font-family="'Liberation Serif','Noto Serif CJK SC',serif" font-size="15" fill="#000" textLength="95.5" lengthAdjust="spacingAndGlyphs">TP1(2030.336)</text>
<text x="776.4" y="196.7" font-family="'Liberation Serif','Noto Serif CJK SC',serif" font-size="15" fill="#000" textLength="95.3" lengthAdjust="spacingAndGlyphs">TP1(2015.596)</text>
<text x="821.2" y="231.3" font-family="'Liberation Serif','Noto Serif CJK SC',serif" font-size="15" fill="#00008B" textLength="133.3" lengthAdjust="spacingAndGlyphs">Entry_Buy(2011.923)</text>
<text x="776.4" y="243.7" font-family="'Liberation Serif','Noto Serif CJK SC',serif" font-size="15" fill="#000" textLength="95.5" lengthAdjust="spacingAndGlyphs">TP2(2010.682)</text>
<text x="776.4" y="290.6" font-family="'Liberation Serif','Noto Serif CJK SC',serif" font-size="15" fill="#000" textLength="95.3" lengthAdjust="spacingAndGlyphs">TP3(2005.768)</text>
<text x="822.3" y="291.4" font-family="'Liberation Serif','Noto Serif CJK SC',serif" font-size="15" fill="#D4001C" textLength="131.6" lengthAdjust="spacingAndGlyphs">Entry_Sell(2005.729)</text>
<rect x="392" y="5" width="677" height="1" fill="#000"/>
<rect x="392" y="355" width="679" height="1" fill="#000"/>
<rect x="392" y="357" width="677" height="1" fill="#000"/>
<rect x="392" y="531" width="679" height="1" fill="#000"/>
<rect x="392" y="533" width="677" height="1" fill="#000"/>
<rect x="392" y="707" width="679" height="1" fill="#000"/>
<rect x="392" y="709" width="677" height="1" fill="#000"/>
<rect x="392" y="881" width="679" height="1" fill="#000"/>
<rect x="1068" y="5" width="1" height="877" fill="#000"/>
<rect x="1069" y="22" width="2" height="1" fill="#000"/>
<text x="1074.4" y="25.9" font-family="'Liberation Sans','Noto Sans CJK SC',sans-serif" font-size="9" fill="#000">2032.220</text>
<rect x="1069" y="55" width="2" height="1" fill="#000"/>
<text x="1074.4" y="58.9" font-family="'Liberation Sans','Noto Sans CJK SC',sans-serif" font-size="9" fill="#000">2028.820</text>
<rect x="1069" y="88" width="2" height="1" fill="#000"/>
<text x="1074.4" y="91.9" font-family="'Liberation Sans','Noto Sans CJK SC',sans-serif" font-size="9" fill="#000">2025.420</text>
<rect x="1069" y="121" width="2" height="1" fill="#000"/>
<text x="1074.4" y="124.9" font-family="'Liberation Sans','Noto Sans CJK SC',sans-serif" font-size="9" fill="#000">2022.020</text>
<rect x="1069" y="154" width="2" height="1" fill="#000"/>
<text x="1074.4" y="157.9" font-family="'Liberation Sans','Noto Sans CJK SC',sans-serif" font-size="9" fill="#000">2018.520</text>
<rect x="1069" y="187" width="2" height="1" fill="#000"/>
<text x="1074.4" y="190.9" font-family="'Liberation Sans','Noto Sans CJK SC',sans-serif" font-size="9" fill="#000">2015.020</text>
<rect x="1069" y="220" width="2" height="1" fill="#000"/>
<text x="1074.4" y="223.9" font-family="'Liberation Sans','Noto Sans CJK SC',sans-serif" font-size="9" fill="#000">2011.620</text>
<rect x="1069" y="253" width="2" height="1" fill="#000"/>
<text x="1074.4" y="256.9" font-family="'Liberation Sans','Noto Sans CJK SC',sans-serif" font-size="9" fill="#000">2008.220</text>
<rect x="1069" y="286" width="2" height="1" fill="#000"/>
<text x="1074.4" y="289.9" font-family="'Liberation Sans','Noto Sans CJK SC',sans-serif" font-size="9" fill="#000">2004.720</text>
<rect x="1069" y="319" width="2" height="1" fill="#000"/>
<text x="1074.4" y="322.9" font-family="'Liberation Sans','Noto Sans CJK SC',sans-serif" font-size="9" fill="#000">2001.320</text>
<rect x="1069" y="352" width="2" height="1" fill="#000"/>
<text x="1074.4" y="355.9" font-family="'Liberation Sans','Noto Sans CJK SC',sans-serif" font-size="9" fill="#000">1997.920</text>
<rect x="1070" y="88" width="46" height="10" fill="#4F86AC"/>
<text x="1074.4" y="96.3" font-family="'Liberation Sans','Noto Sans CJK SC',sans-serif" font-size="9" fill="#EAF2F8">2024.797</text>
<rect x="1070" y="119" width="46" height="11" fill="#0000DD"/>
<text x="1074.4" y="128.3" font-family="'Liberation Sans','Noto Sans CJK SC',sans-serif" font-size="9" fill="#FFF">2021.500</text>
<rect x="1070" y="130" width="46" height="11" fill="#4668D8"/>
<text x="1074.4" y="139.3" font-family="'Liberation Sans','Noto Sans CJK SC',sans-serif" font-size="9" fill="#EEF2FF">2020.303</text>
<rect x="1070" y="187" width="46" height="10" fill="#B5DCE6"/>
<text x="1074.4" y="195.6" font-family="'Liberation Sans','Noto Sans CJK SC',sans-serif" font-size="9" fill="#F4FBFC">2014.442</text>
<path d="M392 376.5 H1068" stroke="#B4B4A4" stroke-width="1" stroke-dasharray="3 3" fill="none"/>
<path d="M392 513.5 H1068" stroke="#B4B4A4" stroke-width="1" stroke-dasharray="3 3" fill="none"/>
<rect x="392" y="410" width="3" height="34" fill="#808080"/>
<rect x="398" y="444" width="5" height="18" fill="#808080"/>
<rect x="406" y="444" width="5" height="18" fill="#808080"/>
<rect x="414" y="444" width="5" height="18" fill="#808080"/>
<rect x="422" y="444" width="5" height="35" fill="#808080"/>
<rect x="430" y="444" width="5" height="70" fill="#808080"/>
<rect x="438" y="444" width="5" height="70" fill="#808080"/>
<rect x="454" y="427" width="5" height="17" fill="#808080"/>
<rect x="462" y="444" width="5" height="18" fill="#808080"/>
<rect x="470" y="427" width="5" height="17" fill="#808080"/>
<rect x="478" y="393" width="5" height="51" fill="#808080"/>
<rect x="486" y="444" width="5" height="18" fill="#808080"/>
<rect x="494" y="376" width="5" height="68" fill="#808080"/>
<rect x="510" y="376" width="5" height="68" fill="#808080"/>
<rect x="518" y="376" width="5" height="68" fill="#808080"/>
<rect x="526" y="393" width="5" height="51" fill="#808080"/>
<rect x="534" y="376" width="5" height="68" fill="#808080"/>
<rect x="542" y="359" width="5" height="85" fill="#7CFC00"/>
<rect x="550" y="410" width="5" height="34" fill="#808080"/>
<rect x="558" y="410" width="5" height="34" fill="#808080"/>
<rect x="566" y="444" width="5" height="18" fill="#808080"/>
<rect x="574" y="444" width="5" height="35" fill="#808080"/>
<rect x="582" y="444" width="5" height="87" fill="#E2360C"/>
<rect x="590" y="444" width="5" height="53" fill="#808080"/>
<rect x="614" y="427" width="5" height="17" fill="#808080"/>
<rect x="622" y="410" width="5" height="34" fill="#808080"/>
<rect x="638" y="376" width="5" height="68" fill="#808080"/>
<rect x="646" y="376" width="5" height="68" fill="#808080"/>
<rect x="654" y="410" width="5" height="34" fill="#808080"/>
<rect x="662" y="410" width="5" height="34" fill="#808080"/>
<rect x="670" y="376" width="5" height="68" fill="#808080"/>
<rect x="678" y="427" width="5" height="17" fill="#808080"/>
<rect x="686" y="427" width="5" height="17" fill="#808080"/>
<rect x="694" y="444" width="5" height="18" fill="#808080"/>
<rect x="702" y="444" width="5" height="18" fill="#808080"/>
<rect x="710" y="410" width="5" height="34" fill="#808080"/>
<rect x="718" y="393" width="5" height="51" fill="#808080"/>
<rect x="726" y="393" width="5" height="51" fill="#808080"/>
<rect x="734" y="359" width="5" height="85" fill="#7CFC00"/>
<rect x="742" y="376" width="5" height="68" fill="#808080"/>
<rect x="750" y="393" width="5" height="51" fill="#808080"/>
<rect x="758" y="410" width="5" height="34" fill="#808080"/>
<rect x="766" y="410" width="5" height="34" fill="#808080"/>
<rect x="774" y="427" width="5" height="17" fill="#808080"/>
<rect x="782" y="427" width="5" height="17" fill="#808080"/>
<rect x="790" y="393" width="5" height="51" fill="#808080"/>
<rect x="798" y="376" width="5" height="68" fill="#808080"/>
<rect x="806" y="376" width="5" height="68" fill="#808080"/>
<rect x="814" y="393" width="5" height="51" fill="#808080"/>
<rect x="822" y="410" width="5" height="34" fill="#808080"/>
<rect x="830" y="427" width="5" height="17" fill="#808080"/>
<rect x="838" y="393" width="5" height="51" fill="#808080"/>
<rect x="846" y="427" width="5" height="17" fill="#808080"/>
<rect x="854" y="393" width="5" height="51" fill="#808080"/>
<rect x="862" y="444" width="5" height="18" fill="#808080"/>
<rect x="870" y="444" width="5" height="35" fill="#808080"/>
<rect x="878" y="410" width="5" height="34" fill="#808080"/>
<rect x="886" y="427" width="5" height="17" fill="#808080"/>
<rect x="894" y="410" width="5" height="34" fill="#808080"/>
<rect x="902" y="444" width="5" height="18" fill="#808080"/>
<rect x="934" y="376" width="5" height="68" fill="#808080"/>
<rect x="942" y="393" width="5" height="51" fill="#808080"/>
<rect x="950" y="444" width="5" height="18" fill="#808080"/>
<rect x="958" y="444" width="5" height="18" fill="#808080"/>
<rect x="966" y="376" width="5" height="68" fill="#808080"/>
<rect x="974" y="410" width="5" height="34" fill="#808080"/>
<rect x="990" y="444" width="5" height="53" fill="#808080"/>
<rect x="998" y="444" width="5" height="53" fill="#808080"/>
<rect x="1006" y="444" width="5" height="35" fill="#808080"/>
<rect x="1014" y="444" width="5" height="70" fill="#808080"/>
<rect x="1022" y="444" width="5" height="70" fill="#808080"/>
<rect x="1030" y="444" width="5" height="53" fill="#808080"/>
<rect x="1038" y="444" width="5" height="35" fill="#808080"/>
<rect x="1046" y="444" width="5" height="18" fill="#808080"/>
<polyline points="392.5,444.5 400.5,444.5 408.5,444.5 416.5,444.5 424.5,444.5 432.5,444.5 440.5,444.5 448.5,444.5 456.5,444.5 464.5,444.5 472.5,444.5 480.5,444.5 488.5,444.5 496.5,444.5 504.5,444.5 512.5,444.5 520.5,444.5 528.5,444.5 536.5,444.5 544.5,410.2 552.5,410.2 560.5,444.5 568.5,444.5 576.5,444.5 584.5,478.8 592.5,478.8 600.5,444.5 608.5,444.5 616.5,444.5 624.5,444.5 632.5,444.5 640.5,444.5 648.5,444.5 656.5,444.5 664.5,444.5 672.5,444.5 680.5,444.5 688.5,444.5 696.5,444.5 704.5,444.5 712.5,444.5 720.5,444.5 728.5,444.5 736.5,410.2 744.5,410.2 752.5,410.2 760.5,410.2 768.5,444.5 776.5,444.5 784.5,444.5 792.5,444.5 800.5,444.5 808.5,444.5 816.5,444.5 824.5,444.5 832.5,444.5 840.5,444.5 848.5,444.5 856.5,444.5 864.5,444.5 872.5,444.5 880.5,444.5 888.5,444.5 896.5,444.5 904.5,444.5 912.5,444.5 920.5,444.5 928.5,444.5 936.5,444.5 944.5,444.5 952.5,444.5 960.5,444.5 968.5,444.5 976.5,444.5 984.5,444.5 992.5,444.5 1000.5,444.5 1008.5,444.5 1016.5,444.5 1024.5,444.5 1032.5,444.5 1040.5,444.5 1048.5,444.5" fill="none" stroke="#F5D63A" stroke-width="1" stroke-linejoin="round" stroke-linecap="round" shape-rendering="geometricPrecision"/>
<text x="1072" y="367.3" font-family="'Liberation Sans','Noto Sans CJK SC',sans-serif" font-size="9" fill="#000">5</text>
<text x="1072" y="379.8" font-family="'Liberation Sans','Noto Sans CJK SC',sans-serif" font-size="9" fill="#000">4</text>
<text x="1072" y="447.8" font-family="'Liberation Sans','Noto Sans CJK SC',sans-serif" font-size="9" fill="#000">0.00</text>
<text x="1071.6" y="516.8" font-family="'Liberation Sans','Noto Sans CJK SC',sans-serif" font-size="9" fill="#000">-4</text>
<text x="1071.6" y="527.8" font-family="'Liberation Sans','Noto Sans CJK SC',sans-serif" font-size="9" fill="#000">-5</text>
<rect x="1069" y="376" width="2" height="1" fill="#000"/>
<rect x="1069" y="444" width="2" height="1" fill="#000"/>
<rect x="1069" y="513" width="2" height="1" fill="#000"/>
<rect x="392" y="640" width="3" height="17" fill="#2F8FE8"/>
<rect x="398" y="640" width="5" height="17" fill="#A9A9A9"/>
<rect x="406" y="647" width="5" height="10" fill="#F05FB0"/>
<rect x="414" y="647" width="5" height="10" fill="#A9A9A9"/>
<rect x="422" y="647" width="5" height="10" fill="#A9A9A9"/>
<rect x="430" y="654" width="5" height="3" fill="#F05FB0"/>
<rect x="438" y="657" width="5" height="4" fill="#F05FB0"/>
<rect x="446" y="654" width="5" height="3" fill="#2F8FE8"/>
<rect x="454" y="647" width="5" height="10" fill="#2F8FE8"/>
<rect x="462" y="654" width="5" height="3" fill="#F05FB0"/>
<rect x="470" y="657" width="5" height="2" fill="#F05FB0"/>
<rect x="478" y="654" width="5" height="3" fill="#2F8FE8"/>
<rect x="486" y="654" width="5" height="3" fill="#A9A9A9"/>
<rect x="494" y="657" width="5" height="3" fill="#F05FB0"/>
<rect x="502" y="654" width="5" height="3" fill="#2F8FE8"/>
<rect x="510" y="647" width="5" height="10" fill="#2F8FE8"/>
<rect x="518" y="640" width="5" height="17" fill="#2F8FE8"/>
<rect x="526" y="640" width="5" height="17" fill="#A9A9A9"/>
<rect x="534" y="633" width="5" height="24" fill="#2F8FE8"/>
<rect x="542" y="626" width="5" height="31" fill="#2F8FE8"/>
<rect x="550" y="626" width="5" height="31" fill="#A9A9A9"/>
<rect x="558" y="626" width="5" height="31" fill="#A9A9A9"/>
<rect x="566" y="633" width="5" height="24" fill="#F05FB0"/>
<rect x="574" y="640" width="5" height="17" fill="#F05FB0"/>
<rect x="582" y="647" width="5" height="10" fill="#F05FB0"/>
<rect x="590" y="647" width="5" height="10" fill="#A9A9A9"/>
<rect x="598" y="640" width="5" height="17" fill="#2F8FE8"/>
<rect x="606" y="640" width="5" height="17" fill="#A9A9A9"/>
<rect x="614" y="633" width="5" height="24" fill="#2F8FE8"/>
<rect x="622" y="626" width="5" height="31" fill="#2F8FE8"/>
<rect x="630" y="619" width="5" height="38" fill="#2F8FE8"/>
<rect x="638" y="619" width="5" height="38" fill="#A9A9A9"/>
<rect x="646" y="612" width="5" height="45" fill="#2F8FE8"/>
<rect x="654" y="619" width="5" height="38" fill="#F05FB0"/>
<rect x="662" y="619" width="5" height="38" fill="#A9A9A9"/>
<rect x="670" y="612" width="5" height="45" fill="#2F8FE8"/>
<rect x="678" y="612" width="5" height="45" fill="#A9A9A9"/>
<rect x="686" y="619" width="5" height="38" fill="#F05FB0"/>
<rect x="694" y="619" width="5" height="38" fill="#A9A9A9"/>
<rect x="702" y="619" width="5" height="38" fill="#A9A9A9"/>
<rect x="710" y="612" width="5" height="45" fill="#2F8FE8"/>
<rect x="718" y="605" width="5" height="52" fill="#2F8FE8"/>
<rect x="726" y="598" width="5" height="59" fill="#2F8FE8"/>
<rect x="734" y="598" width="5" height="59" fill="#A9A9A9"/>
<rect x="742" y="591" width="5" height="66" fill="#2F8FE8"/>
<rect x="750" y="584" width="5" height="73" fill="#2F8FE8"/>
<rect x="758" y="591" width="5" height="66" fill="#F05FB0"/>
<rect x="766" y="591" width="5" height="66" fill="#A9A9A9"/>
<rect x="774" y="584" width="5" height="73" fill="#2F8FE8"/>
<rect x="782" y="591" width="5" height="66" fill="#F05FB0"/>
<rect x="790" y="584" width="5" height="73" fill="#2F8FE8"/>
<rect x="798" y="577" width="5" height="80" fill="#2F8FE8"/>
<rect x="806" y="570" width="5" height="87" fill="#2F8FE8"/>
<rect x="814" y="563" width="5" height="94" fill="#2F8FE8"/>
<rect x="822" y="556" width="5" height="101" fill="#2F8FE8"/>
<rect x="830" y="549" width="5" height="108" fill="#2F8FE8"/>
<rect x="838" y="542" width="5" height="115" fill="#2F8FE8"/>
<rect x="846" y="549" width="5" height="108" fill="#F05FB0"/>
<rect x="862" y="657" width="5" height="7" fill="#F05FB0"/>
<rect x="870" y="657" width="5" height="15" fill="#F05FB0"/>
<rect x="878" y="657" width="5" height="7" fill="#2F8FE8"/>
<rect x="886" y="657" width="5" height="7" fill="#A9A9A9"/>
<rect x="902" y="657" width="5" height="3" fill="#F05FB0"/>
<rect x="910" y="657" width="5" height="7" fill="#F05FB0"/>
<rect x="918" y="657" width="5" height="7" fill="#A9A9A9"/>
<rect x="926" y="657" width="5" height="15" fill="#F05FB0"/>
<rect x="934" y="657" width="5" height="7" fill="#2F8FE8"/>
<rect x="942" y="657" width="5" height="15" fill="#F05FB0"/>
<rect x="950" y="657" width="5" height="22" fill="#F05FB0"/>
<rect x="958" y="657" width="5" height="22" fill="#A9A9A9"/>
<rect x="966" y="657" width="5" height="15" fill="#2F8FE8"/>
<rect x="974" y="657" width="5" height="7" fill="#2F8FE8"/>
<rect x="982" y="657" width="5" height="15" fill="#F05FB0"/>
<rect x="990" y="657" width="5" height="22" fill="#F05FB0"/>
<rect x="998" y="657" width="5" height="29" fill="#F05FB0"/>
<rect x="1006" y="657" width="5" height="29" fill="#A9A9A9"/>
<rect x="1014" y="657" width="5" height="29" fill="#A9A9A9"/>
<rect x="1022" y="657" width="5" height="36" fill="#F05FB0"/>
<rect x="1030" y="657" width="5" height="43" fill="#F05FB0"/>
<rect x="1038" y="657" width="5" height="43" fill="#A9A9A9"/>
<rect x="1046" y="657" width="5" height="36" fill="#2F8FE8"/>
<polyline points="392,684.6 428.4,677.5 448.6,675.1 489.1,671.5 529.5,668.4 569.9,665 590.1,662.9 610,661.8 630.2,659.3 650.4,656.3 680.7,650.7 711.1,648.2 735.3,646.2 761.6,641.2 785.8,634.1 806,630 822.2,625 840,619.5 856.3,612.9 880.5,606.8 920.9,597.7 951.3,586.6 981.6,577.5 1011.9,570.4 1032.1,567 1048.3,564.8" fill="none" stroke="#CC0010" stroke-width="3.2" stroke-linejoin="round" stroke-linecap="round" shape-rendering="geometricPrecision"/>
<polyline points="392,647.2 409.2,646.2 416.3,653.3 428.4,661.4 438.5,665.4 448.6,674.1 454.7,671.5 465.8,661.4 471.9,659.3 481,663.4 493.1,661.8 509.3,661 519.4,657.3 529.5,651.3 535.5,649.2 543.6,643.2 551.7,631 559.8,620.9 567.9,618.9 576,627 584,637.1 592.1,657.3 600.2,667 607.3,668.4 612,667 617.1,664.4 624.1,657.3 640.3,647.2 647.4,644.2 656.5,635.1 670.6,632.1 687.8,620.3 694.9,623 711.1,631 719.1,629 735.3,618.9 745.4,604.8 753.5,590.6 761.6,581.5 769.7,579.1 781.8,582.1 791.9,582.5 806,577.5 816.1,567.4 826.2,560.3 840,555.9 856.3,554.3 865.4,548.8 872.4,549.8 880.5,553.8 894.7,552.6 904.8,548.6 916.9,549.2 929,549.6 936.1,551.8 945.2,545.8 953.3,544.1 961.4,545.8 969.5,548.6 977.5,546.2 985.6,542.5 993.7,543.7 1001.8,549.2 1009.9,555.3 1022,559.3 1032.1,565.4 1040.2,569.4 1048.3,571.8" fill="none" stroke="#0000C8" stroke-width="3.2" stroke-linejoin="round" stroke-linecap="round" shape-rendering="geometricPrecision"/>
<text x="1072.5" y="543.8" font-family="'Liberation Sans','Noto Sans CJK SC',sans-serif" font-size="9" fill="#000">35.25</text>
<text x="1072.5" y="661" font-family="'Liberation Sans','Noto Sans CJK SC',sans-serif" font-size="9" fill="#000">0.00</text>
<text x="1072" y="704" font-family="'Liberation Sans','Noto Sans CJK SC',sans-serif" font-size="9" fill="#000">-14.25</text>
<rect x="1069" y="657" width="2" height="1" fill="#000"/>
<polyline points="392,844.5 438.8,843.8 474,843.4 511.6,842.7 544.5,838.2 563.3,836.3 582.1,836.8 615,838.2 638.5,835.8 664.4,834 709,828.8 732.5,824.6 756,819.4 798.8,808.1 845.8,794 869.3,787 897.5,778.7 939.8,769.3 975,762.3 998.5,758 1022,755.9 1049,755.2" fill="none" stroke="#CC0010" stroke-width="3.2" stroke-linejoin="round" stroke-linecap="round" shape-rendering="geometricPrecision"/>
<polyline points="392,843.4 401.2,841.7 417.6,841.7 439.9,846.2 455.2,843.4 474,843.8 506.9,841 528.1,836.3 544.5,824.6 563.3,819.2 575.1,822.2 586.8,829.3 600.9,834.4 617.4,835.1 633.8,832.8 647.9,826.9 664.4,823.4 673.8,816.8 694.9,814 727.8,805.8 740,796.4 751.8,787 775.3,775.2 798.8,765.8 822.3,751.7 843.4,742.3 857.5,738.1 881,732.9 897.5,729.4 928,727 942.1,722.3 956.2,721.6 975,717.6 986.8,719.3 1007.9,721.6 1026.7,728.2 1049,734.1" fill="none" stroke="#0000C8" stroke-width="3.2" stroke-linejoin="round" stroke-linecap="round" shape-rendering="geometricPrecision"/>
<rect x="844.5" y="710" width="8" height="171" fill="#C8003C"/>
<rect x="860.5" y="710" width="8" height="171" fill="#C8003C"/>
<path d="M856.5 709 V881" stroke="#000" stroke-width="1" stroke-dasharray="3 3" fill="none"/>
<text x="392" y="721.5" font-family="'Liberation Sans','Noto Sans CJK SC',sans-serif" font-size="9" fill="#000">0000</text>
<text x="1072.5" y="720.3" font-family="'Liberation Sans','Noto Sans CJK SC',sans-serif" font-size="9" fill="#000">3324.15</text>
<text x="1072.5" y="747.8" font-family="'Liberation Sans','Noto Sans CJK SC',sans-serif" font-size="9" fill="#000">0.00</text>
<text x="1072" y="878.8" font-family="'Liberation Sans','Noto Sans CJK SC',sans-serif" font-size="9" fill="#000">-13861.15</text>
<rect x="1069" y="744" width="2" height="1" fill="#000"/>
<rect x="440" y="882" width="1" height="4" fill="#000"/>
<text x="439.5" y="894.8" font-family="'Liberation Sans','Noto Sans CJK SC',sans-serif" font-size="9" fill="#000">18 Jan 10:00</text>
<rect x="504" y="882" width="1" height="4" fill="#000"/>
<text x="503.5" y="894.8" font-family="'Liberation Sans','Noto Sans CJK SC',sans-serif" font-size="9" fill="#000">18 Jan 12:00</text>
<rect x="568" y="882" width="1" height="4" fill="#000"/>
<text x="567.5" y="894.8" font-family="'Liberation Sans','Noto Sans CJK SC',sans-serif" font-size="9" fill="#000">18 Jan 14:00</text>
<rect x="632" y="882" width="1" height="4" fill="#000"/>
<text x="631.5" y="894.8" font-family="'Liberation Sans','Noto Sans CJK SC',sans-serif" font-size="9" fill="#000">18 Jan 16:00</text>
<rect x="696" y="882" width="1" height="4" fill="#000"/>
<text x="695.5" y="894.8" font-family="'Liberation Sans','Noto Sans CJK SC',sans-serif" font-size="9" fill="#000">18 Jan 18:00</text>
<rect x="760" y="882" width="1" height="4" fill="#000"/>
<text x="759.5" y="894.8" font-family="'Liberation Sans','Noto Sans CJK SC',sans-serif" font-size="9" fill="#000">18 Jan 20:00</text>
<rect x="824" y="882" width="1" height="4" fill="#000"/>
<text x="823.5" y="894.8" font-family="'Liberation Sans','Noto Sans CJK SC',sans-serif" font-size="9" fill="#000">18 Jan 22:00</text>
<rect x="888" y="882" width="1" height="4" fill="#000"/>
<text x="887.5" y="894.8" font-family="'Liberation Sans','Noto Sans CJK SC',sans-serif" font-size="9" fill="#000">19 Jan 01:00</text>
<rect x="952" y="882" width="1" height="4" fill="#000"/>
<text x="951.5" y="894.8" font-family="'Liberation Sans','Noto Sans CJK SC',sans-serif" font-size="9" fill="#000">19 Jan 03:00</text>
<rect x="1016" y="882" width="1" height="4" fill="#000"/>
<text x="1015.5" y="894.8" font-family="'Liberation Sans','Noto Sans CJK SC',sans-serif" font-size="9" fill="#000">19 Jan 05:00</text>
<text x="392.3" y="894.8" font-family="'Liberation Sans','Noto Sans CJK SC',sans-serif" font-size="9" fill="#000">an 08:00</text>
<clipPath id="cm"><rect x="392" y="3" width="736" height="909"/></clipPath><g clip-path="url(#cm)">
<g shape-rendering="geometricPrecision"><circle cx="963" cy="392" r="141" fill="#000" fill-opacity="0.04"/><circle cx="963" cy="392" r="118" fill="none" stroke="#000" stroke-opacity="0.02" stroke-width="10"/><path d="M905 300 C960 250 1060 290 1062 380 C1040 320 960 300 905 300 Z" fill="#000" fill-opacity="0.04"/><path d="M1030 500 C970 540 880 500 870 420 C900 480 970 500 1030 500 Z" fill="#000" fill-opacity="0.04"/><path d="M1040 400 C1085 410 1095 470 1050 515 C1075 470 1065 430 1040 400 Z" fill="#FFF" fill-opacity="0.25"/></g>
<text transform="translate(830 539) rotate(-43.6)" font-family="'Liberation Sans',sans-serif" font-size="62" fill="#000" stroke="#000" stroke-width="1.74" opacity="0.1">18681493429</text>
<text transform="translate(742 322) rotate(-45)" font-family="'Liberation Sans',sans-serif" font-size="60" fill="#000" stroke="#000" stroke-width="1.68" opacity="0.04">18681493429</text>
<text transform="translate(930 731) rotate(-43)" font-family="'Liberation Sans',sans-serif" font-size="58" fill="#000" stroke="#000" stroke-width="1.62" opacity="0.05">18681493429</text>
<text transform="translate(729 742) rotate(-43)" font-family="'Liberation Sans',sans-serif" font-size="37" fill="#000" stroke="#000" stroke-width="1.04" opacity="0.05">18681493429</text>
<text transform="translate(1064 176) rotate(-44.4)" font-family="'Liberation Sans',sans-serif" font-size="32" fill="#000" stroke="#000" stroke-width="0.9" opacity="0.05">18681493429</text>
</g>
<rect x="1128" y="0" width="795" height="915" fill="#FFFFFF"/>
<rect x="1128" y="0" width="789" height="902" fill="#666666"/>
<rect x="1128" y="0" width="1" height="912" fill="#505050"/>
<rect x="1129" y="902" width="788" height="3" fill="#F1F4F8"/>
<rect x="1129" y="905" width="788" height="7" fill="#D6DFEB"/>
<rect x="1128" y="912" width="795" height="1" fill="#5A5A5A"/>
<rect x="1917" y="0" width="6" height="915" fill="#F6F6F6"/>
<rect x="1917" y="76" width="6" height="1" fill="#E2E2E2"/>
<rect x="1129" y="447" width="45" height="69" fill="#DCD9DC"/>
<rect x="1374" y="359" width="96" height="20" fill="#DCE2EE"/>
<rect x="1129" y="275" width="428" height="1" fill="#D9A3D9"/>
<rect x="1129" y="313" width="738" height="1" fill="#D2E6EC"/>
<rect x="1129" y="314" width="738" height="2" fill="#5A7A92"/>
<rect x="1129" y="316" width="738" height="1" fill="#62707C"/>
<rect x="1129" y="361" width="430" height="4" fill="#7C6C18"/>
<rect x="1129" y="362" width="430" height="2" fill="#F0E264"/>
<rect x="1374" y="368" width="185" height="4" fill="#8A7A20"/>
<rect x="1374" y="369" width="185" height="2" fill="#F2E040"/>
<rect x="1470" y="359" width="88" height="1" fill="#A9D3E3"/>
<rect x="1470" y="378" width="88" height="1" fill="#A9D3E3"/>
<rect x="1129" y="387" width="738" height="3" fill="#A8553A"/>
<rect x="1129" y="391" width="738" height="1" fill="#E4E4E4"/>
<rect x="1129" y="397" width="738" height="1" fill="#5C5CC8"/>
<rect x="1129" y="398" width="738" height="1" fill="#0A0A80"/>
<rect x="1129" y="447" width="428" height="1" fill="#D9A3D9"/>
<rect x="1129" y="456" width="428" height="1" fill="#A9D3E3"/>
<rect x="1129" y="475" width="430" height="4" fill="#A23040"/>
<rect x="1129" y="476" width="430" height="2" fill="#C81428"/>
<rect x="1129" y="515" width="428" height="1" fill="#D9A3D9"/>
<path d="M1382.5 4 V588" stroke="#000" stroke-width="1" stroke-dasharray="3 3" fill="none"/>
<path d="M1766.5 4 V881" stroke="#000" stroke-width="1" stroke-dasharray="3 3" fill="none"/>
<rect x="1373" y="327" width="3" height="94" fill="#F064B4"/>
<path d="M1490 4 H1500 L1495 9 Z" fill="#CFCFCF" shape-rendering="geometricPrecision"/>
<rect x="1130.5" y="463.5" width="7" height="7" fill="none" stroke="#A42A3C" stroke-width="1"/>
<rect x="1130.5" y="481.5" width="7" height="7" fill="none" stroke="#A42A3C" stroke-width="1"/>
<rect x="1138.5" y="452.5" width="7" height="7" fill="none" stroke="#A42A3C" stroke-width="1"/>
<rect x="1138.5" y="482.5" width="7" height="7" fill="none" stroke="#A42A3C" stroke-width="1"/>
<rect x="1154.5" y="469.5" width="7" height="7" fill="none" stroke="#A42A3C" stroke-width="1"/>
<rect x="1162.5" y="473.5" width="7" height="7" fill="none" stroke="#A42A3C" stroke-width="1"/>
<rect x="1162.5" y="495.5" width="7" height="7" fill="none" stroke="#A42A3C" stroke-width="1"/>
<rect x="1170.5" y="470.5" width="7" height="7" fill="none" stroke="#A42A3C" stroke-width="1"/>
<rect x="1170.5" y="484.5" width="7" height="7" fill="none" stroke="#A42A3C" stroke-width="1"/>
<rect x="1170.5" y="509.5" width="7" height="7" fill="none" stroke="#A42A3C" stroke-width="1"/>
<rect x="1178.5" y="463.5" width="7" height="7" fill="none" stroke="#A42A3C" stroke-width="1"/>
<rect x="1186.5" y="485.5" width="7" height="7" fill="none" stroke="#A42A3C" stroke-width="1"/>
<rect x="1186.5" y="499.5" width="7" height="7" fill="none" stroke="#A42A3C" stroke-width="1"/>
<rect x="1194.5" y="489.5" width="7" height="7" fill="none" stroke="#A42A3C" stroke-width="1"/>
<rect x="1202.5" y="465.5" width="7" height="7" fill="none" stroke="#A42A3C" stroke-width="1"/>
<rect x="1202.5" y="484.5" width="7" height="7" fill="none" stroke="#A42A3C" stroke-width="1"/>
<rect x="1210.5" y="476.5" width="7" height="7" fill="none" stroke="#A42A3C" stroke-width="1"/>
<rect x="1210.5" y="457.5" width="7" height="7" fill="none" stroke="#A42A3C" stroke-width="1"/>
<rect x="1218.5" y="466.5" width="7" height="7" fill="none" stroke="#A42A3C" stroke-width="1"/>
<rect x="1227.5" y="424.5" width="7" height="7" fill="none" stroke="#A42A3C" stroke-width="1"/>
<rect x="1227.5" y="455.5" width="7" height="7" fill="none" stroke="#A42A3C" stroke-width="1"/>
<rect x="1234.5" y="443.5" width="7" height="7" fill="none" stroke="#A42A3C" stroke-width="1"/>
<rect x="1234.5" y="461.5" width="7" height="7" fill="none" stroke="#A42A3C" stroke-width="1"/>
<rect x="1242.5" y="461.5" width="7" height="7" fill="none" stroke="#A42A3C" stroke-width="1"/>
<rect x="1242.5" y="518.5" width="7" height="7" fill="none" stroke="#A42A3C" stroke-width="1"/>
<rect x="1250.5" y="461.5" width="7" height="7" fill="none" stroke="#A42A3C" stroke-width="1"/>
<rect x="1250.5" y="500.5" width="7" height="7" fill="none" stroke="#A42A3C" stroke-width="1"/>
<rect x="1258.5" y="482.5" width="7" height="7" fill="none" stroke="#A42A3C" stroke-width="1"/>
<rect x="1258.5" y="456.5" width="7" height="7" fill="none" stroke="#A42A3C" stroke-width="1"/>
<rect x="1266.5" y="446.5" width="7" height="7" fill="none" stroke="#A42A3C" stroke-width="1"/>
<rect x="1266.5" y="476.5" width="7" height="7" fill="none" stroke="#A42A3C" stroke-width="1"/>
<rect x="1274.5" y="463.5" width="7" height="7" fill="none" stroke="#A42A3C" stroke-width="1"/>
<rect x="1274.5" y="437.5" width="7" height="7" fill="none" stroke="#A42A3C" stroke-width="1"/>
<rect x="1282.5" y="433.5" width="7" height="7" fill="none" stroke="#A42A3C" stroke-width="1"/>
<rect x="1282.5" y="460.5" width="7" height="7" fill="none" stroke="#A42A3C" stroke-width="1"/>
<rect x="1298.5" y="437.5" width="7" height="7" fill="none" stroke="#A42A3C" stroke-width="1"/>
<rect x="1298.5" y="460.5" width="7" height="7" fill="none" stroke="#A42A3C" stroke-width="1"/>
<rect x="1306.5" y="434.5" width="7" height="7" fill="none" stroke="#A42A3C" stroke-width="1"/>
<rect x="1306.5" y="452.5" width="7" height="7" fill="none" stroke="#A42A3C" stroke-width="1"/>
<rect x="1314.5" y="427.5" width="7" height="7" fill="none" stroke="#A42A3C" stroke-width="1"/>
<rect x="1314.5" y="438.5" width="7" height="7" fill="none" stroke="#A42A3C" stroke-width="1"/>
<rect x="1320.5" y="410.5" width="7" height="7" fill="none" stroke="#A42A3C" stroke-width="1"/>
<rect x="1322.5" y="385.5" width="7" height="7" fill="none" stroke="#A42A3C" stroke-width="1"/>
<rect x="1321.5" y="411.5" width="7" height="7" fill="none" stroke="#A42A3C" stroke-width="1"/>
<rect x="1330.5" y="395.5" width="7" height="7" fill="none" stroke="#A42A3C" stroke-width="1"/>
<rect x="1338.5" y="405.5" width="7" height="7" fill="none" stroke="#A42A3C" stroke-width="1"/>
<rect x="1346.5" y="385.5" width="7" height="7" fill="none" stroke="#A42A3C" stroke-width="1"/>
<rect x="1346.5" y="397.5" width="7" height="7" fill="none" stroke="#A42A3C" stroke-width="1"/>
<rect x="1354.5" y="383.5" width="7" height="7" fill="none" stroke="#A42A3C" stroke-width="1"/>
<rect x="1362.5" y="369.5" width="7" height="7" fill="none" stroke="#A42A3C" stroke-width="1"/>
<rect x="1362.5" y="376.5" width="7" height="7" fill="none" stroke="#A42A3C" stroke-width="1"/>
<rect x="1378.5" y="377.5" width="7" height="7" fill="none" stroke="#A42A3C" stroke-width="1"/>
<rect x="1378.5" y="354.5" width="7" height="7" fill="none" stroke="#A42A3C" stroke-width="1"/>
<rect x="1386.5" y="385.5" width="7" height="7" fill="none" stroke="#A42A3C" stroke-width="1"/>
<rect x="1386.5" y="366.5" width="7" height="7" fill="none" stroke="#A42A3C" stroke-width="1"/>
<rect x="1410.5" y="354.5" width="7" height="7" fill="none" stroke="#A42A3C" stroke-width="1"/>
<rect x="1410.5" y="374.5" width="7" height="7" fill="none" stroke="#A42A3C" stroke-width="1"/>
<rect x="1410.5" y="379.5" width="7" height="7" fill="none" stroke="#A42A3C" stroke-width="1"/>
<rect x="1418.5" y="366.5" width="7" height="7" fill="none" stroke="#A42A3C" stroke-width="1"/>
<rect x="1426.5" y="357.5" width="7" height="7" fill="none" stroke="#A42A3C" stroke-width="1"/>
<rect x="1426.5" y="372.5" width="7" height="7" fill="none" stroke="#A42A3C" stroke-width="1"/>
<rect x="1434.5" y="365.5" width="7" height="7" fill="none" stroke="#A42A3C" stroke-width="1"/>
<rect x="1442.5" y="356.5" width="7" height="7" fill="none" stroke="#A42A3C" stroke-width="1"/>
<rect x="1450.5" y="367.5" width="7" height="7" fill="none" stroke="#A42A3C" stroke-width="1"/>
<rect x="1458.5" y="367.5" width="7" height="7" fill="none" stroke="#A42A3C" stroke-width="1"/>
<rect x="1466.5" y="383.5" width="7" height="7" fill="none" stroke="#A42A3C" stroke-width="1"/>
<rect x="1466.5" y="390.5" width="7" height="7" fill="none" stroke="#A42A3C" stroke-width="1"/>
<rect x="1306.5" y="451.5" width="7" height="7" fill="none" stroke="#A42A3C" stroke-width="1"/>
<rect x="1134" y="467" width="1" height="19" fill="#000"/>
<rect x="1132" y="472" width="5" height="4" fill="#000"/>
<rect x="1133" y="473" width="3" height="2" fill="#2F8FE8"/>
<rect x="1142" y="456" width="1" height="31" fill="#000"/>
<rect x="1140" y="471" width="5" height="12" fill="#000"/>
<rect x="1141" y="472" width="3" height="10" fill="#F062B2"/>
<rect x="1150" y="457" width="1" height="27" fill="#000"/>
<rect x="1148" y="474" width="5" height="9" fill="#000"/>
<rect x="1149" y="475" width="3" height="7" fill="#2F8FE8"/>
<rect x="1166" y="476" width="1" height="24" fill="#000"/>
<rect x="1164" y="478" width="5" height="22" fill="#000"/>
<rect x="1165" y="479" width="3" height="20" fill="#F062B2"/>
<rect x="1174" y="474" width="1" height="40" fill="#000"/>
<rect x="1172" y="478" width="5" height="22" fill="#000"/>
<rect x="1173" y="479" width="3" height="20" fill="#2F8FE8"/>
<rect x="1182" y="467" width="1" height="31" fill="#000"/>
<rect x="1180" y="478" width="5" height="17" fill="#000"/>
<rect x="1181" y="479" width="3" height="15" fill="#F062B2"/>
<rect x="1190" y="476" width="1" height="26" fill="#000"/>
<rect x="1188" y="478" width="5" height="17" fill="#000"/>
<rect x="1189" y="479" width="3" height="15" fill="#2F8FE8"/>
<rect x="1198" y="476" width="1" height="19" fill="#000"/>
<rect x="1196" y="478" width="5" height="3" fill="#000"/>
<rect x="1197" y="479" width="3" height="1" fill="#F062B2"/>
<rect x="1206" y="470" width="1" height="19" fill="#000"/>
<rect x="1204" y="471" width="5" height="9" fill="#000"/>
<rect x="1205" y="472" width="3" height="7" fill="#2F8FE8"/>
<rect x="1214" y="464" width="1" height="17" fill="#000"/>
<rect x="1212" y="470" width="5" height="2" fill="#000"/>
<rect x="1222" y="430" width="1" height="41" fill="#000"/>
<rect x="1220" y="432" width="5" height="38" fill="#000"/>
<rect x="1221" y="433" width="3" height="36" fill="#2F8FE8"/>
<rect x="1230" y="430" width="1" height="30" fill="#000"/>
<rect x="1228" y="432" width="5" height="16" fill="#000"/>
<rect x="1229" y="433" width="3" height="14" fill="#F062B2"/>
<rect x="1238" y="448" width="1" height="37" fill="#000"/>
<rect x="1236" y="449" width="5" height="35" fill="#000"/>
<rect x="1237" y="450" width="3" height="33" fill="#F062B2"/>
<rect x="1246" y="465" width="1" height="57" fill="#000"/>
<rect x="1244" y="482" width="5" height="22" fill="#000"/>
<rect x="1245" y="483" width="3" height="20" fill="#F062B2"/>
<rect x="1254" y="465" width="1" height="40" fill="#000"/>
<rect x="1252" y="483" width="5" height="20" fill="#000"/>
<rect x="1253" y="484" width="3" height="18" fill="#2F8FE8"/>
<rect x="1262" y="461" width="1" height="27" fill="#000"/>
<rect x="1260" y="469" width="5" height="14" fill="#000"/>
<rect x="1261" y="470" width="3" height="12" fill="#2F8FE8"/>
<rect x="1270" y="451" width="1" height="29" fill="#000"/>
<rect x="1268" y="457" width="5" height="11" fill="#000"/>
<rect x="1269" y="458" width="3" height="9" fill="#2F8FE8"/>
<rect x="1286" y="422" width="1" height="45" fill="#000"/>
<rect x="1284" y="429" width="5" height="32" fill="#000"/>
<rect x="1285" y="430" width="3" height="30" fill="#2F8FE8"/>
<rect x="1294" y="426" width="1" height="34" fill="#000"/>
<rect x="1292" y="429" width="5" height="19" fill="#000"/>
<rect x="1293" y="430" width="3" height="17" fill="#F062B2"/>
<rect x="1302" y="442" width="1" height="21" fill="#000"/>
<rect x="1300" y="447" width="5" height="3" fill="#000"/>
<rect x="1301" y="448" width="3" height="1" fill="#2F8FE8"/>
<rect x="1310" y="434" width="1" height="23" fill="#000"/>
<rect x="1308" y="435" width="5" height="12" fill="#000"/>
<rect x="1309" y="436" width="3" height="10" fill="#2F8FE8"/>
<rect x="1318" y="394" width="1" height="50" fill="#000"/>
<rect x="1316" y="412" width="5" height="22" fill="#000"/>
<rect x="1317" y="413" width="3" height="20" fill="#2F8FE8"/>
<rect x="1326" y="389" width="1" height="27" fill="#000"/>
<rect x="1324" y="396" width="5" height="16" fill="#000"/>
<rect x="1325" y="397" width="3" height="14" fill="#2F8FE8"/>
<rect x="1334" y="395" width="1" height="18" fill="#000"/>
<rect x="1332" y="396" width="5" height="7" fill="#000"/>
<rect x="1333" y="397" width="3" height="5" fill="#F062B2"/>
<rect x="1342" y="399" width="1" height="11" fill="#000"/>
<rect x="1340" y="401" width="5" height="3" fill="#000"/>
<rect x="1341" y="402" width="3" height="1" fill="#2F8FE8"/>
<rect x="1350" y="387" width="1" height="15" fill="#000"/>
<rect x="1348" y="389" width="5" height="12" fill="#000"/>
<rect x="1349" y="390" width="3" height="10" fill="#2F8FE8"/>
<rect x="1358" y="375" width="1" height="14" fill="#000"/>
<rect x="1356" y="378" width="5" height="10" fill="#000"/>
<rect x="1357" y="379" width="3" height="8" fill="#2F8FE8"/>
<rect x="1366" y="372" width="1" height="9" fill="#000"/>
<rect x="1364" y="374" width="5" height="4" fill="#000"/>
<rect x="1365" y="375" width="3" height="2" fill="#2F8FE8"/>
<rect x="1382" y="358" width="1" height="26" fill="#000"/>
<rect x="1380" y="364" width="5" height="17" fill="#000"/>
<rect x="1381" y="365" width="3" height="15" fill="#F062B2"/>
<rect x="1390" y="359" width="1" height="29" fill="#000"/>
<rect x="1388" y="364" width="5" height="18" fill="#000"/>
<rect x="1389" y="365" width="3" height="16" fill="#2F8FE8"/>
<rect x="1398" y="360" width="1" height="15" fill="#000"/>
<rect x="1396" y="364" width="5" height="2" fill="#000"/>
<rect x="1406" y="361" width="1" height="14" fill="#000"/>
<rect x="1404" y="364" width="5" height="6" fill="#000"/>
<rect x="1405" y="365" width="3" height="4" fill="#F062B2"/>
<rect x="1414" y="358" width="1" height="23" fill="#000"/>
<rect x="1412" y="371" width="5" height="2" fill="#000"/>
<rect x="1430" y="361" width="1" height="16" fill="#000"/>
<rect x="1428" y="364" width="5" height="3" fill="#000"/>
<rect x="1429" y="365" width="3" height="1" fill="#F062B2"/>
<rect x="1446" y="360" width="1" height="20" fill="#000"/>
<rect x="1444" y="362" width="5" height="15" fill="#000"/>
<rect x="1445" y="363" width="3" height="13" fill="#F062B2"/>
<rect x="1454" y="371" width="1" height="6" fill="#000"/>
<rect x="1452" y="373" width="5" height="4" fill="#000"/>
<rect x="1453" y="374" width="3" height="2" fill="#2F8FE8"/>
<rect x="1462" y="369" width="1" height="25" fill="#000"/>
<rect x="1460" y="373" width="5" height="19" fill="#000"/>
<rect x="1461" y="374" width="3" height="17" fill="#F062B2"/>
<rect x="1470" y="387" width="1" height="8" fill="#000"/>
<rect x="1468" y="390" width="5" height="3" fill="#000"/>
<rect x="1469" y="391" width="3" height="1" fill="#2F8FE8"/>
<rect x="1478" y="386" width="1" height="6" fill="#000"/>
<rect x="1476" y="389" width="5" height="3" fill="#000"/>
<rect x="1477" y="390" width="3" height="1" fill="#F062B2"/>
<rect x="1156.5" y="473" width="4" height="29" fill="#22EE22"/>
<rect x="1129" y="493" width="1" height="18" fill="#B03878"/>
<rect x="1276.5" y="429" width="4" height="38" fill="#E00010"/>
<rect x="1420.5" y="336" width="4" height="35" fill="#E00010"/>
<rect x="1436.5" y="351" width="4" height="18" fill="#E00010"/>
<path d="M1246.3 442 V453.9 M1240.8 447.9 L1246.3 453.9 L1251.8 447.9" fill="none" stroke="#E0001E" stroke-width="1.6" stroke-linecap="round" stroke-linejoin="round" shape-rendering="geometricPrecision"/>
<path d="M1461.9 355.2 V366.7 M1456.4 360.7 L1461.9 366.7 L1467.4 360.7" fill="none" stroke="#E0001E" stroke-width="1.6" stroke-linecap="round" stroke-linejoin="round" shape-rendering="geometricPrecision"/>
<path d="M1278.5 429 V438 M1274 433 L1278.5 438 L1283 433" fill="none" stroke="#E0001E" stroke-width="1.6" stroke-linecap="round" stroke-linejoin="round" shape-rendering="geometricPrecision"/>
<path d="M1422.5 336 V345 M1418 340 L1422.5 345 L1427 340" fill="none" stroke="#E0001E" stroke-width="1.6" stroke-linecap="round" stroke-linejoin="round" shape-rendering="geometricPrecision"/>
<path d="M1286.4 491 V478.8 M1280.9 484.8 L1286.4 478.8 L1291.9 484.8" fill="none" stroke="#35F035" stroke-width="1.8" stroke-linecap="round" stroke-linejoin="round" opacity="1" shape-rendering="geometricPrecision"/>
<path d="M1129 514 L1134 519" stroke="#35F035" stroke-width="1.6" fill="none" shape-rendering="geometricPrecision"/>
<g shape-rendering="geometricPrecision" fill="none" stroke="#FFE600" stroke-width="1.1"><circle cx="1229.5" cy="423.7" r="4"/><path d="M1227.3 424.5 q2.2 2.2 4.4 0" stroke="#FFE600"/><path d="M1227.5 422.4 h0.9 M1230.6 422.4 h0.9" stroke="#FFE600"/></g>
<g shape-rendering="geometricPrecision" fill="none" stroke="#FFE600" stroke-width="1.1"><circle cx="1181.6" cy="464.0" r="4"/><path d="M1179.4 464.8 q2.2 2.2 4.4 0" stroke="#FFE600"/><path d="M1179.6 462.7 h0.9 M1182.7 462.7 h0.9" stroke="#FFE600"/></g>
<g shape-rendering="geometricPrecision" fill="none" stroke="#FFE600" stroke-width="1.1"><circle cx="1213.4" cy="460.0" r="4"/><path d="M1211.2 460.8 q2.2 2.2 4.4 0" stroke="#FFE600"/><path d="M1211.4 458.7 h0.9 M1214.5 458.7 h0.9" stroke="#FFE600"/></g>
<g shape-rendering="geometricPrecision" fill="none" stroke="#FFE600" stroke-width="1.1"><circle cx="1197.7" cy="473.1" r="4"/><path d="M1195.5 473.9 q2.2 2.2 4.4 0" stroke="#FFE600"/><path d="M1195.7 471.8 h0.9 M1198.8 471.8 h0.9" stroke="#FFE600"/></g>
<g shape-rendering="geometricPrecision" fill="none" stroke="#FFE600" stroke-width="1.1"><circle cx="1261.6" cy="456.9" r="4"/><path d="M1259.4 457.7 q2.2 2.2 4.4 0" stroke="#FFE600"/><path d="M1259.6 455.6 h0.9 M1262.7 455.6 h0.9" stroke="#FFE600"/></g>
<g shape-rendering="geometricPrecision" fill="none" stroke="#FFE600" stroke-width="1.1"><circle cx="1301.7" cy="467.8" r="4"/><path d="M1299.5 468.6 q2.2 2.2 4.4 0" stroke="#FFE600"/><path d="M1299.7 466.5 h0.9 M1302.8 466.5 h0.9" stroke="#FFE600"/></g>
<g shape-rendering="geometricPrecision" fill="none" stroke="#FFE600" stroke-width="1.1"><circle cx="1245.6" cy="527.8" r="4"/><path d="M1243.4 528.6 q2.2 2.2 4.4 0" stroke="#FFE600"/><path d="M1243.6 526.5 h0.9 M1246.7 526.5 h0.9" stroke="#FFE600"/></g>
<g shape-rendering="geometricPrecision" fill="none" stroke="#FFE600" stroke-width="1.1"><circle cx="1437.8" cy="350.6" r="4"/><path d="M1435.6 351.4 q2.2 2.2 4.4 0" stroke="#FFE600"/><path d="M1435.8 349.3 h0.9 M1438.9 349.3 h0.9" stroke="#FFE600"/></g>
<g shape-rendering="geometricPrecision" fill="none" stroke="#FFE600" stroke-width="1.1"><circle cx="1453.4" cy="382.7" r="4"/><path d="M1451.2 383.5 q2.2 2.2 4.4 0" stroke="#FFE600"/><path d="M1451.4 381.4 h0.9 M1454.5 381.4 h0.9" stroke="#FFE600"/></g>
<g shape-rendering="geometricPrecision" fill="none" stroke="#FFE600" stroke-width="1.1"><circle cx="1341.4" cy="391.9" r="4"/><path d="M1339.2 392.7 q2.2 2.2 4.4 0" stroke="#FFE600"/><path d="M1339.4 390.6 h0.9 M1342.5 390.6 h0.9" stroke="#FFE600"/></g>
<g shape-rendering="geometricPrecision" fill="none" stroke="#FFE600" stroke-width="1.1"><circle cx="1333.7" cy="417.9" r="4"/><path d="M1331.5 418.7 q2.2 2.2 4.4 0" stroke="#FFE600"/><path d="M1331.7 416.6 h0.9 M1334.8 416.6 h0.9" stroke="#FFE600"/></g>
<g shape-rendering="geometricPrecision" fill="none" stroke="#FFE600" stroke-width="1.1"><circle cx="1372.0" cy="368.2" r="4"/><path d="M1369.8 369.0 q2.2 2.2 4.4 0" stroke="#FFE600"/><path d="M1370.0 366.9 h0.9 M1373.1 366.9 h0.9" stroke="#FFE600"/></g>
<g shape-rendering="geometricPrecision" fill="none" stroke="#FFE600" stroke-width="1.1"><circle cx="1277.6" cy="437.9" r="4"/><path d="M1275.4 438.7 q2.2 2.2 4.4 0" stroke="#FF3020"/><path d="M1275.6 436.6 h0.9 M1278.7 436.6 h0.9" stroke="#FF3020"/></g>
<g shape-rendering="geometricPrecision" fill="none" stroke="#FFE600" stroke-width="1.1"><circle cx="1421.7" cy="343.7" r="4"/><path d="M1419.5 344.5 q2.2 2.2 4.4 0" stroke="#FF3020"/><path d="M1419.7 342.4 h0.9 M1422.8 342.4 h0.9" stroke="#FF3020"/></g>
<g shape-rendering="geometricPrecision" fill="none" stroke="#7EF0D0" stroke-width="1.1"><circle cx="1157.9" cy="501.0" r="4"/><path d="M1155.7 501.8 q2.2 2.2 4.4 0" stroke="#E8E860"/><path d="M1155.9 499.7 h0.9 M1159.0 499.7 h0.9" stroke="#E8E860"/></g>
<path d="M1174.0 512.5 l-4 5 l4 -2 l4 2 z" fill="#F4E24A" shape-rendering="geometricPrecision"/>
<path d="M1285.7 466.6 l-4 5 l4 -2 l4 2 z" fill="#F4E24A" shape-rendering="geometricPrecision"/>
<path d="M1381.9 353.7 l-4 5 l4 -2 l4 2 z" fill="#F4E24A" shape-rendering="geometricPrecision"/>
<text x="1588.5" y="370.5" font-family="'Liberation Mono','Noto Sans CJK SC',monospace" font-size="10" fill="#E6D23C" textLength="131.2" lengthAdjust="spacingAndGlyphs">2 : 17.01.24 : 2023.80</text>
<text x="1588.5" y="379.3" font-family="'Liberation Mono','Noto Sans CJK SC',monospace" font-size="10" fill="#E6D23C" textLength="131.2" lengthAdjust="spacingAndGlyphs">0 : 19.01.24 : 2023.00</text>
<text x="1588.5" y="486.8" font-family="'Liberation Mono','Noto Sans CJK SC',monospace" font-size="10" fill="#E0182C" textLength="131.2" lengthAdjust="spacingAndGlyphs">1 : 18.01.24 : 2011.80</text>
<text x="1506.8" y="406" font-family="'Liberation Sans','Noto Sans CJK SC',sans-serif" font-size="16" fill="#D416D4" textLength="38.7" lengthAdjust="spacingAndGlyphs">&lt;17.2</text>
<text x="1652.5" y="398.4" font-family="'Liberation Sans','Noto Sans CJK SC',sans-serif" font-size="43" fill="#000" font-weight="bold" textLength="201.5" lengthAdjust="spacingAndGlyphs">2020.8110</text>
<rect x="1129" y="3" width="739" height="1" fill="#000"/>
<rect x="1129" y="588" width="741" height="1" fill="#000"/>
<rect x="1129" y="590" width="739" height="1" fill="#000"/>
<rect x="1129" y="882" width="741" height="1" fill="#000"/>
<rect x="1867" y="3" width="1" height="880" fill="#000"/>
<rect x="1868" y="24" width="2" height="1" fill="#000"/>
<text x="1873.2" y="27.9" font-family="'Liberation Sans','Noto Sans CJK SC',sans-serif" font-size="9" fill="#000">2059.240</text>
<rect x="1868" y="57" width="2" height="1" fill="#000"/>
<text x="1873.2" y="60.9" font-family="'Liberation Sans','Noto Sans CJK SC',sans-serif" font-size="9" fill="#000">2055.840</text>
<rect x="1868" y="90" width="2" height="1" fill="#000"/>
<text x="1873.2" y="93.9" font-family="'Liberation Sans','Noto Sans CJK SC',sans-serif" font-size="9" fill="#000">2052.340</text>
<rect x="1868" y="123" width="2" height="1" fill="#000"/>
<text x="1873.2" y="126.9" font-family="'Liberation Sans','Noto Sans CJK SC',sans-serif" font-size="9" fill="#000">2048.940</text>
<rect x="1868" y="156" width="2" height="1" fill="#000"/>
<text x="1873.2" y="159.9" font-family="'Liberation Sans','Noto Sans CJK SC',sans-serif" font-size="9" fill="#000">2045.440</text>
<rect x="1868" y="189" width="2" height="1" fill="#000"/>
<text x="1873.2" y="192.9" font-family="'Liberation Sans','Noto Sans CJK SC',sans-serif" font-size="9" fill="#000">2042.040</text>
<rect x="1868" y="222" width="2" height="1" fill="#000"/>
<text x="1873.2" y="225.9" font-family="'Liberation Sans','Noto Sans CJK SC',sans-serif" font-size="9" fill="#000">2038.540</text>
<rect x="1868" y="255" width="2" height="1" fill="#000"/>
<text x="1873.2" y="258.9" font-family="'Liberation Sans','Noto Sans CJK SC',sans-serif" font-size="9" fill="#000">2035.040</text>
<rect x="1868" y="288" width="2" height="1" fill="#000"/>
<text x="1873.2" y="291.9" font-family="'Liberation Sans','Noto Sans CJK SC',sans-serif" font-size="9" fill="#000">2031.640</text>
<rect x="1868" y="321" width="2" height="1" fill="#000"/>
<text x="1873.2" y="324.9" font-family="'Liberation Sans','Noto Sans CJK SC',sans-serif" font-size="9" fill="#000">2028.140</text>
<rect x="1868" y="354" width="2" height="1" fill="#000"/>
<text x="1873.2" y="357.9" font-family="'Liberation Sans','Noto Sans CJK SC',sans-serif" font-size="9" fill="#000">2024.740</text>
<rect x="1868" y="387" width="2" height="1" fill="#000"/>
<text x="1873.2" y="390.9" font-family="'Liberation Sans','Noto Sans CJK SC',sans-serif" font-size="9" fill="#000">2021.340</text>
<rect x="1868" y="420" width="2" height="1" fill="#000"/>
<text x="1873.2" y="423.9" font-family="'Liberation Sans','Noto Sans CJK SC',sans-serif" font-size="9" fill="#000">2017.740</text>
<rect x="1868" y="453" width="2" height="1" fill="#000"/>
<text x="1873.2" y="456.9" font-family="'Liberation Sans','Noto Sans CJK SC',sans-serif" font-size="9" fill="#000">2014.340</text>
<rect x="1868" y="486" width="2" height="1" fill="#000"/>
<text x="1873.2" y="489.9" font-family="'Liberation Sans','Noto Sans CJK SC',sans-serif" font-size="9" fill="#000">2010.840</text>
<rect x="1868" y="519" width="2" height="1" fill="#000"/>
<text x="1873.2" y="522.9" font-family="'Liberation Sans','Noto Sans CJK SC',sans-serif" font-size="9" fill="#000">2007.440</text>
<rect x="1868" y="552" width="2" height="1" fill="#000"/>
<text x="1873.2" y="555.9" font-family="'Liberation Sans','Noto Sans CJK SC',sans-serif" font-size="9" fill="#000">2003.940</text>
<rect x="1868" y="585" width="2" height="1" fill="#000"/>
<text x="1873.2" y="588.9" font-family="'Liberation Sans','Noto Sans CJK SC',sans-serif" font-size="9" fill="#000">2000.540</text>
<rect x="1869" y="307" width="47" height="2" fill="#B4DCEA"/>
<rect x="1869" y="309" width="47" height="10" fill="#4C86B4"/>
<text x="1873.2" y="317.6" font-family="'Liberation Sans','Noto Sans CJK SC',sans-serif" font-size="9" fill="#6D8EA8">2028.793</text>
<rect x="1869" y="381" width="47" height="12" fill="#000"/>
<text x="1873.2" y="391.6" font-family="'Liberation Sans','Noto Sans CJK SC',sans-serif" font-size="9" fill="#FFF">2020.866</text>
<rect x="1869" y="381" width="47" height="5.5" fill="#E2501E"/>
<rect x="1869" y="393" width="47" height="10" fill="#0000EC"/>
<text x="1873.2" y="401.6" font-family="'Liberation Sans','Noto Sans CJK SC',sans-serif" font-size="9" fill="#D0D8FF">2020.126</text>
<text x="1871.5" y="601" font-family="'Liberation Sans','Noto Sans CJK SC',sans-serif" font-size="9" fill="#000">33.2</text>
<rect x="1132" y="695" width="5" height="33" fill="#2F8FE8"/>
<rect x="1140" y="695" width="5" height="33" fill="#A9A9A9"/>
<rect x="1148" y="695" width="5" height="33" fill="#A9A9A9"/>
<rect x="1156" y="704" width="5" height="24" fill="#F062B2"/>
<rect x="1164" y="712" width="5" height="16" fill="#F062B2"/>
<rect x="1172" y="712" width="5" height="16" fill="#A9A9A9"/>
<rect x="1180" y="704" width="5" height="24" fill="#2F8FE8"/>
<rect x="1188" y="712" width="5" height="16" fill="#F062B2"/>
<rect x="1196" y="704" width="5" height="24" fill="#2F8FE8"/>
<rect x="1204" y="695" width="5" height="33" fill="#2F8FE8"/>
<rect x="1212" y="687" width="5" height="41" fill="#2F8FE8"/>
<rect x="1220" y="679" width="5" height="49" fill="#2F8FE8"/>
<rect x="1228" y="671" width="5" height="57" fill="#2F8FE8"/>
<rect x="1236" y="679" width="5" height="49" fill="#F062B2"/>
<rect x="1244" y="687" width="5" height="41" fill="#F062B2"/>
<rect x="1252" y="679" width="5" height="49" fill="#2F8FE8"/>
<rect x="1260" y="671" width="5" height="57" fill="#2F8FE8"/>
<rect x="1268" y="662" width="5" height="66" fill="#2F8FE8"/>
<rect x="1276" y="654" width="5" height="74" fill="#2F8FE8"/>
<rect x="1284" y="654" width="5" height="74" fill="#A9A9A9"/>
<rect x="1292" y="654" width="5" height="74" fill="#A9A9A9"/>
<rect x="1300" y="662" width="5" height="66" fill="#F062B2"/>
<rect x="1308" y="654" width="5" height="74" fill="#2F8FE8"/>
<rect x="1316" y="646" width="5" height="82" fill="#2F8FE8"/>
<rect x="1324" y="638" width="5" height="90" fill="#2F8FE8"/>
<rect x="1332" y="646" width="5" height="82" fill="#F062B2"/>
<rect x="1340" y="638" width="5" height="90" fill="#2F8FE8"/>
<rect x="1348" y="629" width="5" height="99" fill="#2F8FE8"/>
<rect x="1356" y="621" width="5" height="107" fill="#2F8FE8"/>
<rect x="1364" y="613" width="5" height="115" fill="#2F8FE8"/>
<rect x="1372" y="605" width="5" height="123" fill="#2F8FE8"/>
<rect x="1388" y="728" width="5" height="9" fill="#F062B2"/>
<rect x="1396" y="728" width="5" height="9" fill="#A9A9A9"/>
<rect x="1428" y="728" width="5" height="9" fill="#F062B2"/>
<rect x="1444" y="728" width="5" height="9" fill="#F062B2"/>
<rect x="1452" y="728" width="5" height="18" fill="#F062B2"/>
<rect x="1460" y="728" width="5" height="26" fill="#F062B2"/>
<rect x="1468" y="728" width="5" height="34" fill="#F062B2"/>
<rect x="1476" y="728" width="5" height="26" fill="#2F8FE8"/>
<rect x="1378.5" y="591" width="8" height="290" fill="#C8003C"/>
<rect x="1402.5" y="591" width="8" height="290" fill="#C8003C"/>
<rect x="1410.5" y="591" width="8" height="290" fill="#EC0000"/>
<rect x="1166" y="883" width="1" height="3" fill="#000"/>
<text x="1165.5" y="895" font-family="'Liberation Sans','Noto Sans CJK SC',sans-serif" font-size="9" fill="#000">18 Jan 09:30</text>
<rect x="1230" y="883" width="1" height="3" fill="#000"/>
<text x="1229.5" y="895" font-family="'Liberation Sans','Noto Sans CJK SC',sans-serif" font-size="9" fill="#000">18 Jan 13:30</text>
<rect x="1294" y="883" width="1" height="3" fill="#000"/>
<text x="1293.5" y="895" font-family="'Liberation Sans','Noto Sans CJK SC',sans-serif" font-size="9" fill="#000">18 Jan 17:30</text>
<rect x="1358" y="883" width="1" height="3" fill="#000"/>
<text x="1357.5" y="895" font-family="'Liberation Sans','Noto Sans CJK SC',sans-serif" font-size="9" fill="#000">18 Jan 21:30</text>
<rect x="1422" y="883" width="1" height="3" fill="#000"/>
<text x="1421.5" y="895" font-family="'Liberation Sans','Noto Sans CJK SC',sans-serif" font-size="9" fill="#000">19 Jan 02:30</text>
<text x="1131" y="895" font-family="'Liberation Sans','Noto Sans CJK SC',sans-serif" font-size="9" fill="#000">05:30</text>
<clipPath id="cr"><rect x="1129" y="4" width="738" height="584"/></clipPath><g clip-path="url(#cr)">
<text transform="translate(1064 176) rotate(-44.4)" font-family="'Liberation Sans',sans-serif" font-size="32" fill="#FFF" stroke="#FFF" stroke-width="0.9" opacity="0.045">18681493429</text>
</g>
<defs><linearGradient id="bg" x1="0" y1="0" x2="1" y2="0.3"><stop offset="0" stop-color="#FBF08C"/><stop offset="0.5" stop-color="#F3D93A"/><stop offset="1" stop-color="#DDB414"/></linearGradient></defs>
<rect x="1567" y="602" width="356" height="276" fill="#F0F0F0"/>
<rect x="1918" y="602" width="5" height="276" fill="#F8F8F8"/>
<g transform="translate(1581.0 614.0) scale(1.000)" shape-rendering="geometricPrecision"><circle cx="19" cy="35" r="3.3" fill="#F2D230" stroke="#A08418" stroke-width="0.90"/><path d="M16 1.8 Q19 -0.8 22 1.8 L26.5 3.3 Q28.6 4 28.9 6 C30 16 33 23 38 27.6 Q38.5 28.6 37.5 29.2 C30 34 8 34 0.6 29.2 Q-0.4 28.6 0.2 27.6 C5 23 8 16 9.3 6 Q9.6 4 11.6 3.3 Z" fill="url(#bg)" stroke="#A08418" stroke-width="0.90"/><path d="M5.5 22 Q19 30 32.6 22" fill="none" stroke="#B8960C" stroke-width="0.90"/><path d="M12.5 7.5 L22 8.5 L10 21 Z" fill="#FFFBE0" fill-opacity="0.5"/></g>
<text x="1637.4" y="629.4" font-family="'Liberation Sans','Noto Sans CJK SC',sans-serif" font-size="11" fill="#000" textLength="39.2" lengthAdjust="spacingAndGlyphs">XAUUSD</text>
<text x="1684" y="629.4" font-family="'Liberation Sans','Noto Sans CJK SC',sans-serif" font-size="11" fill="#000" textLength="11.6" lengthAdjust="spacingAndGlyphs">H4</text>
<text x="1695.6" y="629.4" font-family="'Liberation Sans','Noto Sans CJK SC',sans-serif" font-size="11" fill="#000" textLength="12.8" lengthAdjust="spacingAndGlyphs">__</text>
<text x="1708.3" y="630" font-family="'Liberation Sans','Noto Sans CJK SC',sans-serif" font-size="12" fill="#000" textLength="47.4" lengthAdjust="spacingAndGlyphs">空头趋势</text>
<rect x="1575" y="717" width="342" height="123" fill="#FFFFFF"/>
<rect x="1575" y="717" width="342" height="1" fill="#9C9C9C"/>
<rect x="1575" y="717" width="1" height="123" fill="#9C9C9C"/>
<rect x="1576" y="718" width="340" height="1" fill="#DCDCDC"/>
<rect x="1575" y="839" width="342" height="1" fill="#C9C9C9"/>
<rect x="1916" y="718" width="1" height="122" fill="#E3E3E3"/>
<rect x="1577" y="719" width="338" height="19" fill="#EBEBEB"/>
<rect x="1577" y="738" width="338" height="1" fill="#D9D9D9"/>
<g transform="translate(1581.0 722.2) scale(0.320)" shape-rendering="geometricPrecision"><circle cx="19" cy="35" r="3.3" fill="#F2D230" stroke="#A08418" stroke-width="2.81"/><path d="M16 1.8 Q19 -0.8 22 1.8 L26.5 3.3 Q28.6 4 28.9 6 C30 16 33 23 38 27.6 Q38.5 28.6 37.5 29.2 C30 34 8 34 0.6 29.2 Q-0.4 28.6 0.2 27.6 C5 23 8 16 9.3 6 Q9.6 4 11.6 3.3 Z" fill="url(#bg)" stroke="#A08418" stroke-width="2.81"/><path d="M5.5 22 Q19 30 32.6 22" fill="none" stroke="#B8960C" stroke-width="2.81"/><path d="M12.5 7.5 L22 8.5 L10 21 Z" fill="#FFFBE0" fill-opacity="0.5"/></g>
<text x="1599.6" y="733.2" font-family="'Liberation Sans','Noto Sans CJK SC',sans-serif" font-size="11" fill="#000" textLength="42.5" lengthAdjust="spacingAndGlyphs">13:13:10</text>
<text x="1664.4" y="733.2" font-family="'Liberation Sans','Noto Sans CJK SC',sans-serif" font-size="11" fill="#000" textLength="39.2" lengthAdjust="spacingAndGlyphs">XAUUSD</text>
<text x="1711" y="733.2" font-family="'Liberation Sans','Noto Sans CJK SC',sans-serif" font-size="11" fill="#000" textLength="11.6" lengthAdjust="spacingAndGlyphs">H4</text>
<text x="1722.6" y="733.2" font-family="'Liberation Sans','Noto Sans CJK SC',sans-serif" font-size="11" fill="#000" textLength="12.8" lengthAdjust="spacingAndGlyphs">__</text>
<text x="1735.3" y="733.8" font-family="'Liberation Sans','Noto Sans CJK SC',sans-serif" font-size="12" fill="#000" textLength="47.4" lengthAdjust="spacingAndGlyphs">空头趋势</text>
<rect x="1577" y="758" width="338" height="1" fill="#D9D9D9"/>
<g transform="translate(1581.0 742.2) scale(0.320)" shape-rendering="geometricPrecision"><circle cx="19" cy="35" r="3.3" fill="#F2D230" stroke="#A08418" stroke-width="2.81"/><path d="M16 1.8 Q19 -0.8 22 1.8 L26.5 3.3 Q28.6 4 28.9 6 C30 16 33 23 38 27.6 Q38.5 28.6 37.5 29.2 C30 34 8 34 0.6 29.2 Q-0.4 28.6 0.2 27.6 C5 23 8 16 9.3 6 Q9.6 4 11.6 3.3 Z" fill="url(#bg)" stroke="#A08418" stroke-width="2.81"/><path d="M5.5 22 Q19 30 32.6 22" fill="none" stroke="#B8960C" stroke-width="2.81"/><path d="M12.5 7.5 L22 8.5 L10 21 Z" fill="#FFFBE0" fill-opacity="0.5"/></g>
<text x="1599.6" y="753.2" font-family="'Liberation Sans','Noto Sans CJK SC',sans-serif" font-size="11" fill="#000" textLength="42.5" lengthAdjust="spacingAndGlyphs">13:13:10</text>
<text x="1664.4" y="753.2" font-family="'Liberation Sans','Noto Sans CJK SC',sans-serif" font-size="11" fill="#000" textLength="39.2" lengthAdjust="spacingAndGlyphs">XAUUSD</text>
<text x="1711" y="753.8" font-family="'Liberation Sans','Noto Sans CJK SC',sans-serif" font-size="12" fill="#000" textLength="23.8" lengthAdjust="spacingAndGlyphs">注意</text>
<text x="1735" y="753.2" font-family="'Liberation Sans','Noto Sans CJK SC',sans-serif" font-size="11" fill="#000" textLength="12.8" lengthAdjust="spacingAndGlyphs">__</text>
<text x="1747.6" y="753.2" font-family="'Liberation Sans','Noto Sans CJK SC',sans-serif" font-size="11" fill="#000" textLength="11.6" lengthAdjust="spacingAndGlyphs">H1</text>
<text x="1759.2" y="753.2" font-family="'Liberation Sans','Noto Sans CJK SC',sans-serif" font-size="11" fill="#000" textLength="12.8" lengthAdjust="spacingAndGlyphs">__</text>
<text x="1772.5" y="753.8" font-family="'Liberation Sans','Noto Sans CJK SC',sans-serif" font-size="12" fill="#000" textLength="94.6" lengthAdjust="spacingAndGlyphs">空头趋势回调反弹</text>
<rect x="1577" y="759" width="338" height="19" fill="#EBEBEB"/>
<rect x="1577" y="778" width="338" height="1" fill="#D9D9D9"/>
<g transform="translate(1581.0 762.2) scale(0.320)" shape-rendering="geometricPrecision"><circle cx="19" cy="35" r="3.3" fill="#F2D230" stroke="#A08418" stroke-width="2.81"/><path d="M16 1.8 Q19 -0.8 22 1.8 L26.5 3.3 Q28.6 4 28.9 6 C30 16 33 23 38 27.6 Q38.5 28.6 37.5 29.2 C30 34 8 34 0.6 29.2 Q-0.4 28.6 0.2 27.6 C5 23 8 16 9.3 6 Q9.6 4 11.6 3.3 Z" fill="url(#bg)" stroke="#A08418" stroke-width="2.81"/><path d="M5.5 22 Q19 30 32.6 22" fill="none" stroke="#B8960C" stroke-width="2.81"/><path d="M12.5 7.5 L22 8.5 L10 21 Z" fill="#FFFBE0" fill-opacity="0.5"/></g>
<text x="1599.6" y="773.2" font-family="'Liberation Sans','Noto Sans CJK SC',sans-serif" font-size="11" fill="#000" textLength="42.5" lengthAdjust="spacingAndGlyphs">13:13:10</text>
<text x="1664.4" y="773.2" font-family="'Liberation Sans','Noto Sans CJK SC',sans-serif" font-size="11" fill="#000" textLength="39.2" lengthAdjust="spacingAndGlyphs">XAUUSD</text>
<text x="1711" y="773.8" font-family="'Liberation Sans','Noto Sans CJK SC',sans-serif" font-size="12" fill="#000" textLength="23.8" lengthAdjust="spacingAndGlyphs">注意</text>
<text x="1735" y="773.2" font-family="'Liberation Sans','Noto Sans CJK SC',sans-serif" font-size="11" fill="#000" textLength="12.8" lengthAdjust="spacingAndGlyphs">__</text>
<text x="1748" y="773.8" font-family="'Liberation Sans','Noto Sans CJK SC',sans-serif" font-size="12" fill="#000" textLength="118" lengthAdjust="spacingAndGlyphs">日内多头趋势回调反弹</text>
<rect x="1577" y="798" width="338" height="1" fill="#D9D9D9"/>
<g transform="translate(1581.0 782.2) scale(0.320)" shape-rendering="geometricPrecision"><circle cx="19" cy="35" r="3.3" fill="#F2D230" stroke="#A08418" stroke-width="2.81"/><path d="M16 1.8 Q19 -0.8 22 1.8 L26.5 3.3 Q28.6 4 28.9 6 C30 16 33 23 38 27.6 Q38.5 28.6 37.5 29.2 C30 34 8 34 0.6 29.2 Q-0.4 28.6 0.2 27.6 C5 23 8 16 9.3 6 Q9.6 4 11.6 3.3 Z" fill="url(#bg)" stroke="#A08418" stroke-width="2.81"/><path d="M5.5 22 Q19 30 32.6 22" fill="none" stroke="#B8960C" stroke-width="2.81"/><path d="M12.5 7.5 L22 8.5 L10 21 Z" fill="#FFFBE0" fill-opacity="0.5"/></g>
<text x="1599.6" y="793.2" font-family="'Liberation Sans','Noto Sans CJK SC',sans-serif" font-size="11" fill="#000" textLength="42.5" lengthAdjust="spacingAndGlyphs">13:13:09</text>
<text x="1664.4" y="793.2" font-family="'Liberation Sans','Noto Sans CJK SC',sans-serif" font-size="11" fill="#000" textLength="39.2" lengthAdjust="spacingAndGlyphs">XAUUSD</text>
<text x="1711" y="793.2" font-family="'Liberation Sans','Noto Sans CJK SC',sans-serif" font-size="11" fill="#000" textLength="11.6" lengthAdjust="spacingAndGlyphs">H4</text>
<text x="1722.6" y="793.2" font-family="'Liberation Sans','Noto Sans CJK SC',sans-serif" font-size="11" fill="#000" textLength="12.8" lengthAdjust="spacingAndGlyphs">__</text>
<text x="1735.3" y="793.8" font-family="'Liberation Sans','Noto Sans CJK SC',sans-serif" font-size="12" fill="#000" textLength="47.4" lengthAdjust="spacingAndGlyphs">空头趋势</text>
<rect x="1577" y="799" width="338" height="19" fill="#EBEBEB"/>
<rect x="1577" y="818" width="338" height="1" fill="#D9D9D9"/>
<g transform="translate(1581.0 802.2) scale(0.320)" shape-rendering="geometricPrecision"><circle cx="19" cy="35" r="3.3" fill="#F2D230" stroke="#A08418" stroke-width="2.81"/><path d="M16 1.8 Q19 -0.8 22 1.8 L26.5 3.3 Q28.6 4 28.9 6 C30 16 33 23 38 27.6 Q38.5 28.6 37.5 29.2 C30 34 8 34 0.6 29.2 Q-0.4 28.6 0.2 27.6 C5 23 8 16 9.3 6 Q9.6 4 11.6 3.3 Z" fill="url(#bg)" stroke="#A08418" stroke-width="2.81"/><path d="M5.5 22 Q19 30 32.6 22" fill="none" stroke="#B8960C" stroke-width="2.81"/><path d="M12.5 7.5 L22 8.5 L10 21 Z" fill="#FFFBE0" fill-opacity="0.5"/></g>
<text x="1599.6" y="813.2" font-family="'Liberation Sans','Noto Sans CJK SC',sans-serif" font-size="11" fill="#000" textLength="42.5" lengthAdjust="spacingAndGlyphs">13:13:09</text>
<text x="1664.4" y="813.2" font-family="'Liberation Sans','Noto Sans CJK SC',sans-serif" font-size="11" fill="#000" textLength="39.2" lengthAdjust="spacingAndGlyphs">XAUUSD</text>
<text x="1711" y="813.8" font-family="'Liberation Sans','Noto Sans CJK SC',sans-serif" font-size="12" fill="#000" textLength="23.8" lengthAdjust="spacingAndGlyphs">注意</text>
<text x="1735" y="813.2" font-family="'Liberation Sans','Noto Sans CJK SC',sans-serif" font-size="11" fill="#000" textLength="12.8" lengthAdjust="spacingAndGlyphs">__</text>
<text x="1747.6" y="813.2" font-family="'Liberation Sans','Noto Sans CJK SC',sans-serif" font-size="11" fill="#000" textLength="11.6" lengthAdjust="spacingAndGlyphs">H1</text>
<text x="1759.2" y="813.2" font-family="'Liberation Sans','Noto Sans CJK SC',sans-serif" font-size="11" fill="#000" textLength="12.8" lengthAdjust="spacingAndGlyphs">__</text>
<text x="1772.5" y="813.8" font-family="'Liberation Sans','Noto Sans CJK SC',sans-serif" font-size="12" fill="#000" textLength="94.6" lengthAdjust="spacingAndGlyphs">空头趋势回调反弹</text>
<rect x="1577" y="838" width="338" height="1" fill="#D9D9D9"/>
<g transform="translate(1581.0 822.2) scale(0.320)" shape-rendering="geometricPrecision"><circle cx="19" cy="35" r="3.3" fill="#F2D230" stroke="#A08418" stroke-width="2.81"/><path d="M16 1.8 Q19 -0.8 22 1.8 L26.5 3.3 Q28.6 4 28.9 6 C30 16 33 23 38 27.6 Q38.5 28.6 37.5 29.2 C30 34 8 34 0.6 29.2 Q-0.4 28.6 0.2 27.6 C5 23 8 16 9.3 6 Q9.6 4 11.6 3.3 Z" fill="url(#bg)" stroke="#A08418" stroke-width="2.81"/><path d="M5.5 22 Q19 30 32.6 22" fill="none" stroke="#B8960C" stroke-width="2.81"/><path d="M12.5 7.5 L22 8.5 L10 21 Z" fill="#FFFBE0" fill-opacity="0.5"/></g>
<text x="1599.6" y="833.2" font-family="'Liberation Sans','Noto Sans CJK SC',sans-serif" font-size="11" fill="#000" textLength="42.5" lengthAdjust="spacingAndGlyphs">13:13:09</text>
<text x="1664.4" y="833.2" font-family="'Liberation Sans','Noto Sans CJK SC',sans-serif" font-size="11" fill="#000" textLength="39.2" lengthAdjust="spacingAndGlyphs">XAUUSD</text>
<text x="1711" y="833.8" font-family="'Liberation Sans','Noto Sans CJK SC',sans-serif" font-size="12" fill="#000" textLength="23.8" lengthAdjust="spacingAndGlyphs">注意</text>
<text x="1735" y="833.2" font-family="'Liberation Sans','Noto Sans CJK SC',sans-serif" font-size="11" fill="#000" textLength="12.8" lengthAdjust="spacingAndGlyphs">__</text>
<text x="1748" y="833.8" font-family="'Liberation Sans','Noto Sans CJK SC',sans-serif" font-size="12" fill="#000" textLength="118" lengthAdjust="spacingAndGlyphs">日内多头趋势回调反弹</text>
<rect x="1659" y="719" width="1" height="120" fill="#D4D4D4"/>
<rect x="1718.5" y="850.5" width="72" height="19" rx="3" ry="3" fill="#FDFDFD" stroke="#ADADAD" stroke-width="1" shape-rendering="geometricPrecision"/>
<text x="1754.5" y="864" font-family="'Liberation Sans','Noto Sans CJK SC',sans-serif" font-size="11" fill="#000" text-anchor="middle">OK</text>
</svg>
</body></html>
